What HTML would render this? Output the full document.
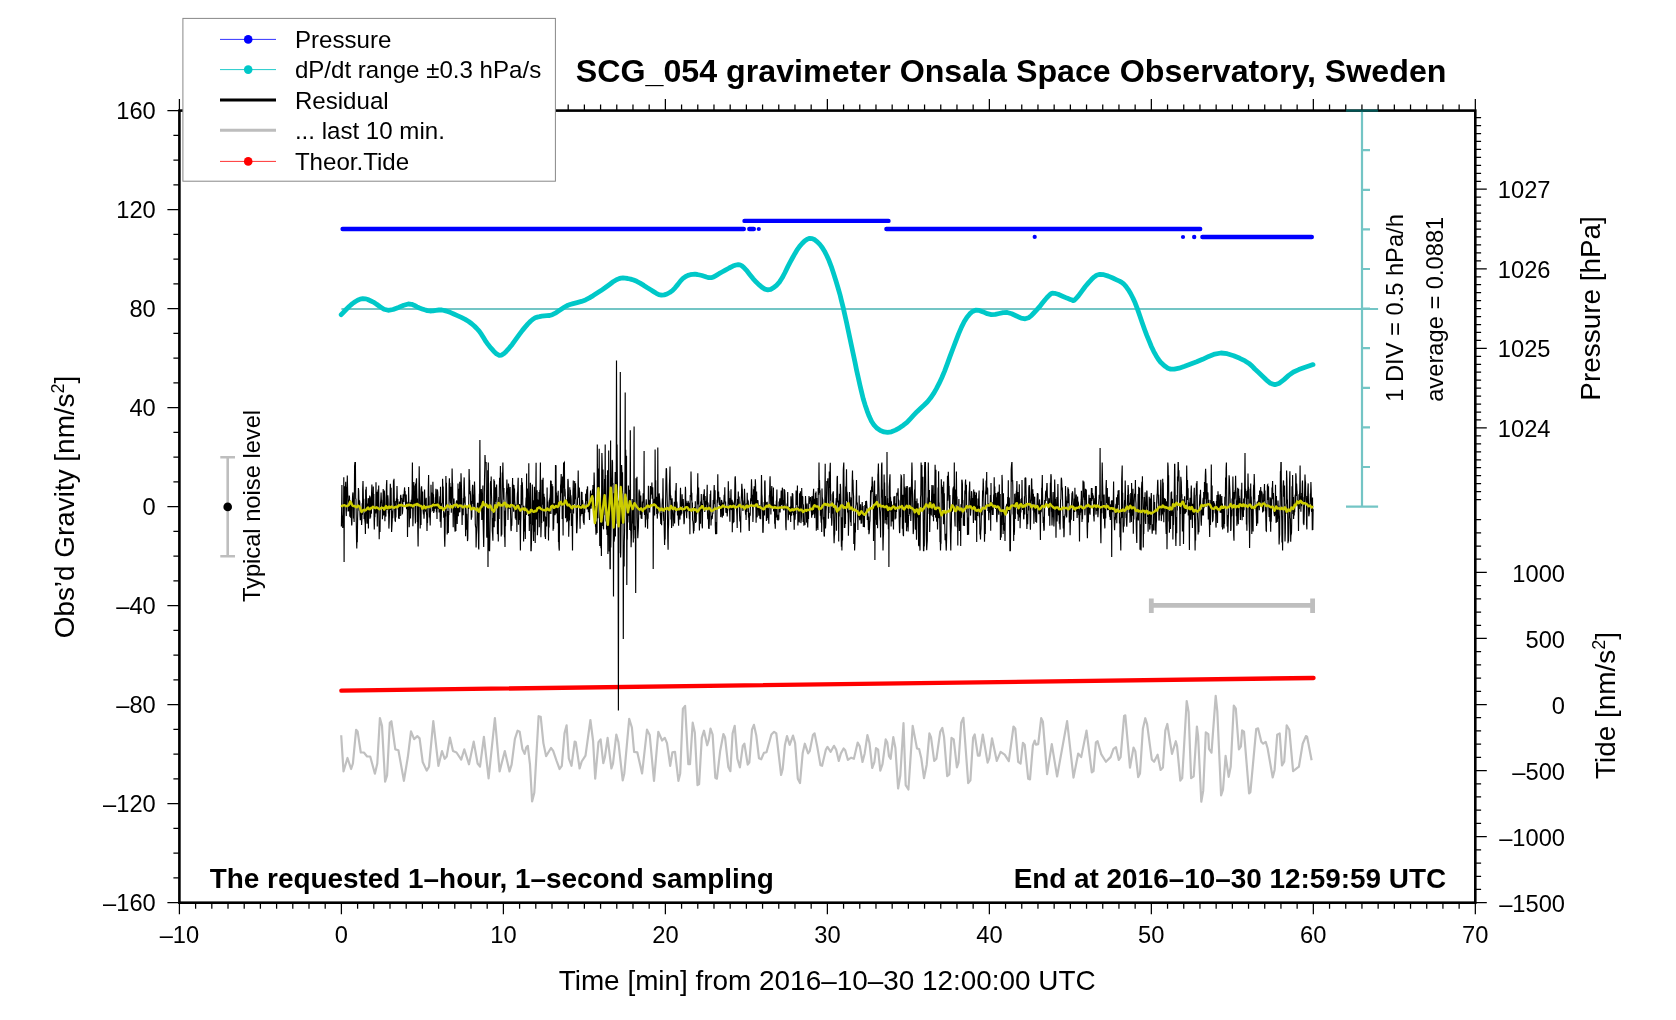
<!DOCTYPE html><html><head><meta charset="utf-8"><style>html,body{margin:0;padding:0;background:#fff;overflow:hidden}svg{display:block;will-change:transform}text{font-family:"Liberation Sans",sans-serif;fill:#000}</style></head><body>
<svg width="1676" height="1020" viewBox="0 0 1676 1020">
<rect width="1676" height="1020" fill="#fff"/>
<path d="M167.4 902.70H179.4M173.4 877.94H179.4M173.4 853.19H179.4M173.4 828.44H179.4M167.4 803.69H179.4M173.4 778.93H179.4M173.4 754.18H179.4M173.4 729.43H179.4M167.4 704.67H179.4M173.4 679.92H179.4M173.4 655.17H179.4M173.4 630.41H179.4M167.4 605.66H179.4M173.4 580.91H179.4M173.4 556.16H179.4M173.4 531.40H179.4M167.4 506.65H179.4M173.4 481.90H179.4M173.4 457.14H179.4M173.4 432.39H179.4M167.4 407.64H179.4M173.4 382.88H179.4M173.4 358.13H179.4M173.4 333.38H179.4M167.4 308.63H179.4M173.4 283.87H179.4M173.4 259.12H179.4M173.4 234.37H179.4M167.4 209.61H179.4M173.4 184.86H179.4M173.4 160.11H179.4M173.4 135.36H179.4M167.4 110.60H179.4M179.41 902.7V914.2M179.41 110.6V99.1M195.61 902.7V908.7M195.61 110.6V104.6M211.81 902.7V908.7M211.81 110.6V104.6M228.01 902.7V908.7M228.01 110.6V104.6M244.21 902.7V908.7M244.21 110.6V104.6M260.40 902.7V908.7M260.40 110.6V104.6M276.60 902.7V908.7M276.60 110.6V104.6M292.80 902.7V908.7M292.80 110.6V104.6M309.00 902.7V908.7M309.00 110.6V104.6M325.20 902.7V908.7M325.20 110.6V104.6M341.40 902.7V914.2M341.40 110.6V99.1M357.60 902.7V908.7M357.60 110.6V104.6M373.80 902.7V908.7M373.80 110.6V104.6M390.00 902.7V908.7M390.00 110.6V104.6M406.20 902.7V908.7M406.20 110.6V104.6M422.39 902.7V908.7M422.39 110.6V104.6M438.59 902.7V908.7M438.59 110.6V104.6M454.79 902.7V908.7M454.79 110.6V104.6M470.99 902.7V908.7M470.99 110.6V104.6M487.19 902.7V908.7M487.19 110.6V104.6M503.39 902.7V914.2M503.39 110.6V99.1M519.59 902.7V908.7M519.59 110.6V104.6M535.79 902.7V908.7M535.79 110.6V104.6M551.99 902.7V908.7M551.99 110.6V104.6M568.19 902.7V908.7M568.19 110.6V104.6M584.38 902.7V908.7M584.38 110.6V104.6M600.58 902.7V908.7M600.58 110.6V104.6M616.78 902.7V908.7M616.78 110.6V104.6M632.98 902.7V908.7M632.98 110.6V104.6M649.18 902.7V908.7M649.18 110.6V104.6M665.38 902.7V914.2M665.38 110.6V99.1M681.58 902.7V908.7M681.58 110.6V104.6M697.78 902.7V908.7M697.78 110.6V104.6M713.98 902.7V908.7M713.98 110.6V104.6M730.18 902.7V908.7M730.18 110.6V104.6M746.38 902.7V908.7M746.38 110.6V104.6M762.57 902.7V908.7M762.57 110.6V104.6M778.77 902.7V908.7M778.77 110.6V104.6M794.97 902.7V908.7M794.97 110.6V104.6M811.17 902.7V908.7M811.17 110.6V104.6M827.37 902.7V914.2M827.37 110.6V99.1M843.57 902.7V908.7M843.57 110.6V104.6M859.77 902.7V908.7M859.77 110.6V104.6M875.97 902.7V908.7M875.97 110.6V104.6M892.17 902.7V908.7M892.17 110.6V104.6M908.37 902.7V908.7M908.37 110.6V104.6M924.56 902.7V908.7M924.56 110.6V104.6M940.76 902.7V908.7M940.76 110.6V104.6M956.96 902.7V908.7M956.96 110.6V104.6M973.16 902.7V908.7M973.16 110.6V104.6M989.36 902.7V914.2M989.36 110.6V99.1M1005.56 902.7V908.7M1005.56 110.6V104.6M1021.76 902.7V908.7M1021.76 110.6V104.6M1037.96 902.7V908.7M1037.96 110.6V104.6M1054.16 902.7V908.7M1054.16 110.6V104.6M1070.36 902.7V908.7M1070.36 110.6V104.6M1086.55 902.7V908.7M1086.55 110.6V104.6M1102.75 902.7V908.7M1102.75 110.6V104.6M1118.95 902.7V908.7M1118.95 110.6V104.6M1135.15 902.7V908.7M1135.15 110.6V104.6M1151.35 902.7V914.2M1151.35 110.6V99.1M1167.55 902.7V908.7M1167.55 110.6V104.6M1183.75 902.7V908.7M1183.75 110.6V104.6M1199.95 902.7V908.7M1199.95 110.6V104.6M1216.15 902.7V908.7M1216.15 110.6V104.6M1232.35 902.7V908.7M1232.35 110.6V104.6M1248.54 902.7V908.7M1248.54 110.6V104.6M1264.74 902.7V908.7M1264.74 110.6V104.6M1280.94 902.7V908.7M1280.94 110.6V104.6M1297.14 902.7V908.7M1297.14 110.6V104.6M1313.34 902.7V914.2M1313.34 110.6V99.1M1329.54 902.7V908.7M1329.54 110.6V104.6M1345.74 902.7V908.7M1345.74 110.6V104.6M1361.94 902.7V908.7M1361.94 110.6V104.6M1378.14 902.7V908.7M1378.14 110.6V104.6M1394.34 902.7V908.7M1394.34 110.6V104.6M1410.53 902.7V908.7M1410.53 110.6V104.6M1426.73 902.7V908.7M1426.73 110.6V104.6M1442.93 902.7V908.7M1442.93 110.6V104.6M1459.13 902.7V908.7M1459.13 110.6V104.6M1475.33 902.7V914.2M1475.33 110.6V99.1M1475.3 499.55H1481.1M1475.3 491.60H1481.1M1475.3 483.64H1481.1M1475.3 475.68H1481.1M1475.3 467.73H1481.1M1475.3 459.77H1481.1M1475.3 451.81H1481.1M1475.3 443.85H1481.1M1475.3 435.90H1481.1M1475.3 427.94H1486.8M1475.3 419.98H1481.1M1475.3 412.03H1481.1M1475.3 404.07H1481.1M1475.3 396.11H1481.1M1475.3 388.15H1481.1M1475.3 380.20H1481.1M1475.3 372.24H1481.1M1475.3 364.28H1481.1M1475.3 356.33H1481.1M1475.3 348.37H1486.8M1475.3 340.41H1481.1M1475.3 332.46H1481.1M1475.3 324.50H1481.1M1475.3 316.54H1481.1M1475.3 308.58H1481.1M1475.3 300.63H1481.1M1475.3 292.67H1481.1M1475.3 284.71H1481.1M1475.3 276.76H1481.1M1475.3 268.80H1486.8M1475.3 260.84H1481.1M1475.3 252.89H1481.1M1475.3 244.93H1481.1M1475.3 236.97H1481.1M1475.3 229.01H1481.1M1475.3 221.06H1481.1M1475.3 213.10H1481.1M1475.3 205.14H1481.1M1475.3 197.19H1481.1M1475.3 189.23H1486.8M1475.3 181.27H1481.1M1475.3 173.32H1481.1M1475.3 165.36H1481.1M1475.3 157.40H1481.1M1475.3 149.44H1481.1M1475.3 141.49H1481.1M1475.3 133.53H1481.1M1475.3 125.57H1481.1M1475.3 117.62H1481.1M1475.3 902.66H1486.8M1475.3 889.46H1481.1M1475.3 876.25H1481.1M1475.3 863.04H1481.1M1475.3 849.83H1481.1M1475.3 836.62H1486.8M1475.3 823.41H1481.1M1475.3 810.20H1481.1M1475.3 796.99H1481.1M1475.3 783.78H1481.1M1475.3 770.57H1486.8M1475.3 757.37H1481.1M1475.3 744.16H1481.1M1475.3 730.95H1481.1M1475.3 717.74H1481.1M1475.3 704.53H1486.8M1475.3 691.32H1481.1M1475.3 678.11H1481.1M1475.3 664.90H1481.1M1475.3 651.69H1481.1M1475.3 638.49H1486.8M1475.3 625.28H1481.1M1475.3 612.07H1481.1M1475.3 598.86H1481.1M1475.3 585.65H1481.1M1475.3 572.44H1486.8M1475.3 559.23H1481.1M1475.3 546.02H1481.1M1475.3 532.81H1481.1M1475.3 519.60H1481.1" stroke="#000" stroke-width="1.25" fill="none"/>
<rect x="179.4" y="110.6" width="1295.9" height="792.1" fill="none" stroke="#000" stroke-width="2.6"/>
<text x="155.8" y="911.1" font-size="23.7" text-anchor="end" >–160</text>
<text x="155.8" y="812.1" font-size="23.7" text-anchor="end" >–120</text>
<text x="155.8" y="713.1" font-size="23.7" text-anchor="end" >–80</text>
<text x="155.8" y="614.1" font-size="23.7" text-anchor="end" >–40</text>
<text x="155.8" y="515.0" font-size="23.7" text-anchor="end" >0</text>
<text x="155.8" y="416.0" font-size="23.7" text-anchor="end" >40</text>
<text x="155.8" y="317.0" font-size="23.7" text-anchor="end" >80</text>
<text x="155.8" y="218.0" font-size="23.7" text-anchor="end" >120</text>
<text x="155.8" y="119.0" font-size="23.7" text-anchor="end" >160</text>
<text x="179.4" y="942.7" font-size="23.7" text-anchor="middle" >–10</text>
<text x="341.4" y="942.7" font-size="23.7" text-anchor="middle" >0</text>
<text x="503.4" y="942.7" font-size="23.7" text-anchor="middle" >10</text>
<text x="665.4" y="942.7" font-size="23.7" text-anchor="middle" >20</text>
<text x="827.4" y="942.7" font-size="23.7" text-anchor="middle" >30</text>
<text x="989.4" y="942.7" font-size="23.7" text-anchor="middle" >40</text>
<text x="1151.3" y="942.7" font-size="23.7" text-anchor="middle" >50</text>
<text x="1313.3" y="942.7" font-size="23.7" text-anchor="middle" >60</text>
<text x="1475.3" y="942.7" font-size="23.7" text-anchor="middle" >70</text>
<text x="1550.5" y="436.9" font-size="23.7" text-anchor="end" >1024</text>
<text x="1550.5" y="357.4" font-size="23.7" text-anchor="end" >1025</text>
<text x="1550.5" y="277.8" font-size="23.7" text-anchor="end" >1026</text>
<text x="1550.5" y="198.2" font-size="23.7" text-anchor="end" >1027</text>
<text x="1565.0" y="911.8" font-size="23.7" text-anchor="end" >–1500</text>
<text x="1565.0" y="845.7" font-size="23.7" text-anchor="end" >–1000</text>
<text x="1565.0" y="779.7" font-size="23.7" text-anchor="end" >–500</text>
<text x="1565.0" y="713.6" font-size="23.7" text-anchor="end" >0</text>
<text x="1565.0" y="647.6" font-size="23.7" text-anchor="end" >500</text>
<text x="1565.0" y="581.5" font-size="23.7" text-anchor="end" >1000</text>
<text x="558.7" y="990.4" font-size="27.9" text-anchor="start" >Time [min] from 2016–10–30 12:00:00 UTC</text>
<text transform="translate(74,507) rotate(-90)" font-size="27.9" text-anchor="middle">Obs’d Gravity [nm/s<tspan dy="-10" font-size="18">2</tspan><tspan dy="10">]</tspan></text>
<text transform="translate(1600,308.4) rotate(-90)" font-size="27.9" text-anchor="middle">Pressure [hPa]</text>
<text transform="translate(1615,705.5) rotate(-90)" font-size="27.9" text-anchor="middle">Tide [nm/s<tspan dy="-10" font-size="18">2</tspan><tspan dy="10">]</tspan></text>
<text x="575.8" y="82.4" font-size="32.2" text-anchor="start" font-weight="bold" >SCG_054 gravimeter Onsala Space Observatory, Sweden</text>
<text x="209.7" y="888.0" font-size="27.9" text-anchor="start" font-weight="bold" >The requested 1–hour, 1–second sampling</text>
<text x="1446.2" y="887.6" font-size="27.9" text-anchor="end" font-weight="bold" >End at 2016–10–30 12:59:59 UTC</text>
<text transform="translate(1402.6,401.8) rotate(-90)" font-size="23.7">1 DIV = 0.5 hPa/h</text>
<text transform="translate(1442.7,401.8) rotate(-90)" font-size="23.7">average = 0.0881</text>
<text transform="translate(259.6,506) rotate(-90)" font-size="23.7" text-anchor="middle">Typical noise level</text>
<path d="M341.4 309H1378.1M1362 110.6V506.6M1346 110.6H1378.1M1346 506.6H1378.1M1362 150.2H1370M1362 189.8H1370M1362 229.4H1370M1362 269.0H1370M1362 308.6H1370M1362 348.2H1370M1362 387.8H1370M1362 427.4H1370M1362 467.0H1370" stroke="#009696" stroke-opacity="0.55" stroke-width="2.2" fill="none"/>
<path d="M341.2 314.7L343.2 312.6 346.1 309.5 349.4 306.2 352.4 303.6 355.1 301.7 357.6 300.2 360.2 299.1 362.8 298.6 365.3 298.8 367.8 299.5 370.4 300.7 373.3 302.1 376.6 304.2 380.1 306.8 384.0 309.2 388.2 310.3 393.1 309.5 398.5 307.4 403.8 305.2 408.3 304.0 411.7 304.3 414.5 305.4 417.0 306.8 419.5 308.0 422.1 308.9 424.7 309.8 427.3 310.6 430.0 311.0 432.9 310.9 435.9 310.4 438.9 310.0 441.9 310.0 444.8 310.6 447.7 311.5 450.6 312.6 453.8 314.0 457.4 315.6 461.3 317.4 465.2 319.4 468.7 321.5 471.7 323.7 474.3 326.0 476.8 328.5 479.2 331.2 481.5 334.4 483.6 337.8 485.8 341.4 488.1 344.6 490.8 347.9 493.7 351.2 496.6 353.9 499.3 355.3 501.7 355.1 504.0 353.6 506.4 351.2 509.0 348.3 512.2 344.4 515.6 339.6 519.2 334.7 522.4 330.4 525.3 326.9 527.9 323.9 530.5 321.3 532.9 319.2 535.2 317.8 537.3 317.1 539.5 316.7 541.8 316.2 544.3 315.9 546.9 315.7 549.5 315.5 552.3 314.7 555.3 313.2 558.5 311.1 561.6 309.0 564.2 307.3 565.9 306.3 566.9 305.7 568.0 305.2 570.0 304.5 573.2 303.6 577.1 302.6 581.4 301.4 585.5 299.9 589.4 297.9 593.2 295.6 597.1 293.1 601.0 290.6 605.0 287.8 609.2 284.7 613.1 281.8 616.5 279.7 619.1 278.6 621.0 278.1 622.9 278.0 625.1 278.2 627.7 278.5 630.6 279.1 633.6 280.0 636.7 281.3 640.1 283.1 643.8 285.4 647.4 287.8 650.7 289.8 653.6 291.6 656.3 293.3 658.9 294.6 661.5 295.2 664.2 294.9 667.0 294.0 669.7 292.5 672.4 290.6 675.1 287.8 677.9 284.4 680.6 280.9 683.2 278.2 685.7 276.5 688.0 275.4 690.3 274.7 692.6 274.3 694.9 274.2 697.3 274.5 699.6 275.0 701.9 275.5 704.2 276.2 706.5 277.0 708.8 277.7 711.2 277.7 713.7 276.9 716.3 275.4 719.0 273.7 722.0 272.0 725.4 270.1 729.2 268.0 732.9 266.1 736.0 265.0 738.3 264.6 739.9 264.8 741.6 265.6 743.7 267.3 746.5 270.3 749.7 274.4 753.0 278.6 756.2 282.1 759.2 284.9 762.1 287.4 764.9 289.1 767.8 289.8 770.7 289.3 773.6 287.7 776.5 285.3 779.4 282.1 782.2 277.8 785.0 272.5 787.7 266.9 790.3 261.9 792.7 257.5 795.0 253.4 797.3 249.6 799.6 246.4 802.1 243.5 804.6 241.0 807.2 239.2 809.7 238.3 812.2 238.6 814.8 239.8 817.3 241.8 819.8 244.4 822.2 247.5 824.5 251.2 826.7 255.5 829.0 260.6 831.3 266.6 833.6 273.5 835.9 280.7 838.0 287.7 839.9 294.3 841.5 300.9 843.2 307.6 844.8 314.7 846.5 322.3 848.2 330.2 849.9 338.3 851.6 346.3 853.3 354.3 855.0 362.3 856.6 370.2 858.3 377.8 859.9 385.0 861.6 392.1 863.2 398.7 865.1 404.9 867.1 410.8 869.2 416.3 871.5 421.2 874.1 425.2 877.1 428.3 880.4 430.5 884.0 431.9 887.6 432.4 891.4 431.8 895.5 430.1 899.6 427.8 903.4 425.2 907.0 422.3 910.3 418.8 913.7 415.2 917.0 411.7 920.4 408.5 923.9 405.3 927.3 402.0 930.5 398.1 933.5 393.7 936.3 388.9 939.0 383.7 941.8 377.8 944.6 371.1 947.4 363.6 950.2 355.9 953.0 348.5 955.8 341.2 958.6 333.9 961.5 327.1 964.3 321.5 967.0 317.2 969.7 313.9 972.5 311.5 975.6 310.2 979.2 310.4 983.2 311.9 987.3 313.7 991.4 314.7 995.3 314.4 999.2 313.5 1003.1 312.6 1007.2 312.5 1011.7 313.8 1016.5 316.0 1021.1 318.1 1025.2 318.8 1028.5 317.8 1031.3 315.7 1033.8 313.0 1036.5 310.2 1039.4 306.9 1042.4 303.1 1045.3 299.5 1047.8 296.7 1049.6 294.9 1050.9 293.8 1052.3 293.2 1054.5 293.3 1058.1 294.3 1062.5 296.2 1066.9 298.1 1070.3 299.4 1072.2 300.1 1073.1 300.6 1074.0 300.4 1075.6 299.0 1078.4 295.8 1081.7 291.3 1085.3 286.5 1088.6 282.6 1091.4 279.6 1094.0 277.1 1096.6 275.2 1099.8 274.3 1103.8 274.7 1108.3 276.1 1112.8 278.0 1116.6 279.8 1119.5 281.1 1121.7 282.4 1123.8 284.0 1125.9 286.4 1128.2 289.6 1130.6 293.5 1132.9 298.0 1135.2 303.1 1137.5 309.1 1139.8 315.8 1142.2 322.7 1144.5 329.2 1146.8 335.3 1149.2 341.2 1151.5 346.7 1153.8 351.6 1156.1 355.7 1158.3 359.2 1160.6 362.2 1163.1 364.6 1165.5 366.6 1167.9 368.2 1170.7 369.1 1174.3 369.2 1179.1 368.2 1184.7 366.3 1190.7 364.0 1196.7 361.8 1202.6 359.3 1208.7 356.4 1214.8 354.1 1220.9 353.0 1227.2 353.7 1233.7 355.7 1239.8 358.3 1245.1 360.9 1249.0 363.4 1252.1 366.1 1254.8 369.0 1258.1 372.0 1262.0 375.7 1266.2 379.8 1270.5 383.3 1274.9 384.7 1279.4 383.2 1284.0 379.6 1288.7 375.4 1293.5 372.0 1298.8 369.6 1304.4 367.5 1309.5 365.8 1313.0 364.6" stroke="#00c8c8" stroke-width="4.8" fill="none" stroke-linejoin="round" stroke-linecap="round"/>
<path d="M342.6 229H743.8M744.5 220.9H888.5M886.4 229H1200.2M1202.4 237H1311.8" stroke="#0000ff" stroke-width="4.4" fill="none" stroke-linecap="round"/>
<path d="M749.3 229H753.8" stroke="#0000ff" stroke-width="4.4" fill="none" stroke-linecap="round"/>
<circle cx="758.8" cy="229" r="2.1" fill="#0000ff"/>
<circle cx="1034.7" cy="236.9" r="2.1" fill="#0000ff"/>
<circle cx="1183" cy="237" r="2.1" fill="#0000ff"/>
<circle cx="1194.2" cy="237" r="2.2" fill="#0000ff"/>
<path d="M341.4 690.6L1313.5 678" stroke="#ff0000" stroke-width="4.4" fill="none" stroke-linecap="round"/>
<path d="M227.7 457.3V556.3M220.3 457.3H235M220.3 556.3H235" stroke="#bebebe" stroke-width="2.6" fill="none"/>
<circle cx="227.7" cy="506.9" r="4.3" fill="#000"/>
<path d="M1151.3 605.4H1312.6M1151.3 598.5V613M1312.6 598.5V613" stroke="#bebebe" stroke-width="4.8" fill="none"/>
<path d="M341.2 735.3L343.5 771.4 347.5 758.0 351.1 769.0 352.9 763.5 356.1 729.8 357.6 731.4 360.8 752.5 363.9 752.5 367.1 756.5 370.2 756.5 374.9 773.7 377.3 763.5 379.9 718.0 382.0 725.9 385.1 781.6 387.1 775.3 389.8 722.7 391.4 721.2 395.3 749.4 398.4 750.2 403.9 780.8 407.8 757.3 411.0 731.4 414.1 739.2 417.3 736.1 419.6 738.4 422.7 762.0 426.7 770.6 429.0 766.7 433.3 721.2 438.4 765.9 442.0 751.0 444.7 758.8 446.7 756.5 449.9 737.6 453.0 751.0 456.5 752.5 461.2 759.6 464.3 749.4 469.0 764.3 473.7 741.6 477.6 763.5 480.0 766.7 483.9 736.9 488.6 778.4 494.9 718.0 499.6 771.4 504.8 751.0 509.5 771.4 511.6 764.7 514.9 738.8 517.6 730.7 519.7 731.8 522.4 749.1 524.6 753.9 526.2 747.5 527.8 745.8 530.0 764.7 532.1 801.4 534.3 792.8 538.6 716.2 540.7 716.7 543.4 743.1 546.1 756.1 551.0 748.0 553.1 750.7 556.4 760.4 559.6 769.0 561.8 765.8 564.5 733.4 566.6 725.4 568.8 758.3 571.5 765.8 574.7 741.5 575.8 742.1 579.6 768.5 581.7 761.5 585.5 755.6 590.4 720.0 593.1 741.0 595.2 778.7 598.5 742.1 600.6 739.4 603.3 763.1 604.9 757.2 607.6 737.8 611.4 768.5 613.0 763.6 616.3 734.5 618.4 742.1 622.7 780.4 624.3 773.4 629.2 718.9 631.9 727.5 634.1 751.8 637.3 752.3 642.1 773.4 647.0 729.7 649.7 735.1 654.0 780.9 658.3 731.8 662.1 740.5 664.8 737.8 667.0 743.1 670.2 765.8 672.4 752.3 675.0 751.8 678.4 780.9 680.2 773.4 682.9 708.6 685.1 705.9 688.3 764.2 690.0 764.2 692.7 722.7 694.8 732.4 697.5 785.2 699.1 784.1 701.8 737.8 704.0 730.7 707.2 745.3 708.8 739.9 710.5 728.6 712.6 734.5 715.3 777.7 716.9 778.7 720.2 750.7 723.4 734.0 725.0 737.2 728.3 766.9 730.4 771.2 732.6 733.4 734.7 725.9 737.4 758.8 739.9 767.4 742.8 745.8 744.4 743.7 747.7 764.7 749.3 762.6 752.0 729.7 753.9 724.8 756.3 735.6 759.0 758.3 761.2 759.3 763.9 752.9 766.5 752.3 771.4 734.5 774.1 731.8 776.3 733.4 778.4 751.8 781.1 775.0 782.7 769.0 784.9 745.3 787.0 736.1 789.7 744.8 793.0 735.6 795.1 743.1 797.8 778.7 800.0 783.1 802.7 752.9 804.8 743.7 808.1 753.4 809.7 751.2 812.9 735.1 814.6 733.4 817.2 746.4 820.5 765.3 822.1 765.8 825.9 749.6 827.5 746.9 830.7 751.8 834.0 745.8 836.1 749.6 838.8 760.9 840.9 753.4 843.6 748.5 845.2 750.2 847.9 759.9 851.2 757.7 853.9 758.8 857.7 742.6 859.8 746.4 862.5 762.0 864.7 753.4 867.4 735.1 869.5 743.1 872.2 768.0 874.4 762.0 876.0 748.0 878.1 749.6 880.3 770.7 882.5 764.2 885.7 739.4 887.3 742.6 889.0 756.1 890.6 758.8 893.3 737.2 895.4 748.0 898.1 788.5 900.3 775.5 903.5 723.2 905.7 785.2 908.4 789.5 912.7 725.9 917.0 748.5 919.1 749.1 921.3 758.3 924.0 778.2 926.7 764.7 929.4 733.4 931.0 737.2 934.2 760.9 936.4 758.8 940.2 731.8 942.3 728.0 944.0 736.7 947.2 776.1 949.3 774.4 951.5 737.8 953.7 739.4 956.9 767.4 958.5 762.6 961.2 722.7 963.4 717.8 968.2 783.1 970.4 780.4 973.1 737.8 974.7 734.5 977.9 755.6 979.6 755.6 982.8 734.5 987.6 762.6 989.3 758.3 992.0 738.3 996.8 760.9 1000.6 751.8 1004.7 754.7 1008.8 761.2 1013.5 726.5 1015.3 728.8 1018.2 761.8 1020.6 763.5 1022.9 742.9 1024.7 744.7 1028.2 778.8 1030.0 779.4 1032.9 745.3 1034.7 740.6 1035.9 744.7 1038.2 744.1 1041.2 718.2 1042.9 721.8 1047.1 774.1 1051.8 744.1 1057.1 776.5 1067.1 721.2 1073.5 777.6 1078.2 753.5 1081.2 757.1 1086.5 730.6 1091.8 772.4 1093.5 771.2 1095.9 742.4 1097.6 741.2 1101.2 754.1 1105.9 761.8 1110.6 757.1 1113.5 748.8 1115.9 747.1 1118.8 760.0 1120.6 757.1 1124.1 715.9 1125.3 715.3 1130.0 767.6 1133.5 747.6 1135.3 751.2 1138.2 777.1 1140.0 773.5 1142.9 728.8 1145.3 718.2 1147.1 724.1 1151.8 759.4 1154.1 761.8 1157.6 754.7 1160.6 770.0 1162.9 767.6 1165.3 730.6 1167.3 724.0 1172.0 753.9 1175.8 741.2 1177.1 746.3 1180.3 780.7 1182.2 778.2 1186.7 701.0 1188.6 711.9 1191.1 778.2 1193.7 776.3 1196.9 726.5 1198.1 736.1 1201.3 801.7 1203.2 790.9 1205.8 732.3 1208.3 734.2 1209.0 748.8 1211.5 752.7 1215.7 695.9 1217.3 711.2 1221.1 795.4 1223.0 789.6 1225.6 755.9 1228.7 776.9 1230.7 766.7 1233.8 705.5 1235.8 708.7 1238.9 749.5 1240.9 746.3 1242.1 730.4 1244.0 731.6 1249.1 793.5 1250.4 792.2 1256.2 729.1 1258.1 728.4 1261.3 741.8 1263.2 743.7 1265.7 741.8 1267.6 748.2 1272.7 777.5 1274.6 769.9 1277.2 734.8 1279.7 733.5 1282.0 765.4 1284.2 761.6 1286.7 725.3 1289.3 729.7 1293.1 771.2 1295.7 769.2 1298.9 766.7 1302.7 743.7 1305.9 736.1 1307.1 736.7 1311.6 760.3" stroke="#c0c0c0" stroke-width="2.2" fill="none" stroke-linejoin="round"/>
<path d="M341.4 526.6L341.7 504.9 341.9 484.9 342.2 522.0 342.5 515.6 342.7 527.9 343.0 526.2 343.3 520.4 343.6 510.8 343.8 477.3 344.1 562.0 344.4 486.4 344.6 487.1 344.9 505.4 345.2 498.6 345.4 490.9 345.7 481.7 346.0 510.4 346.3 516.1 346.5 504.0 346.8 487.9 347.1 486.4 347.3 475.4 347.6 489.8 347.9 500.8 348.1 511.6 348.4 499.7 348.7 510.4 349.0 510.6 349.2 495.5 349.5 496.9 349.8 516.7 350.0 500.1 350.3 511.8 350.6 511.3 350.8 518.0 351.1 504.3 351.4 518.4 351.7 525.5 351.9 523.9 352.2 505.1 352.5 498.3 352.7 494.3 353.0 492.4 353.3 502.4 353.5 518.6 353.8 511.0 354.1 522.0 354.4 491.7 354.6 466.1 354.9 462.6 355.2 462.6 355.4 462.6 355.7 498.5 356.0 499.0 356.2 514.8 356.5 539.1 356.8 548.5 357.1 525.9 357.3 542.2 357.6 519.1 357.9 508.1 358.1 510.8 358.4 488.1 358.7 490.9 358.9 498.9 359.2 505.8 359.5 500.4 359.8 502.6 360.0 515.0 360.3 520.2 360.6 508.3 360.8 518.7 361.1 511.1 361.4 516.4 361.6 525.0 361.9 519.8 362.2 503.3 362.5 514.7 362.7 489.1 363.0 480.9 363.3 494.5 363.5 510.0 363.8 498.7 364.1 518.9 364.3 513.1 364.6 517.6 364.9 520.6 365.2 523.6 365.4 534.0 365.7 489.5 366.0 510.8 366.2 486.7 366.5 501.9 366.8 520.9 367.0 523.6 367.3 522.6 367.6 503.5 367.9 515.8 368.1 498.2 368.4 528.5 368.7 507.3 368.9 511.5 369.2 497.9 369.5 499.7 369.7 495.5 370.0 518.8 370.3 510.6 370.6 517.6 370.8 500.1 371.1 496.6 371.4 513.7 371.6 492.6 371.9 484.5 372.2 506.8 372.4 493.4 372.7 496.4 373.0 507.3 373.3 486.4 373.5 507.5 373.8 493.9 374.1 520.8 374.3 529.6 374.6 516.5 374.9 517.2 375.1 506.5 375.4 511.8 375.7 512.3 376.0 482.3 376.2 512.7 376.5 496.3 376.8 503.5 377.0 491.8 377.3 526.4 377.6 501.9 377.8 496.2 378.1 489.6 378.4 506.6 378.7 485.4 378.9 514.6 379.2 539.3 379.5 522.3 379.7 529.4 380.0 532.0 380.3 511.1 380.5 503.3 380.8 499.8 381.1 492.6 381.4 501.1 381.6 499.7 381.9 506.8 382.2 505.2 382.4 519.3 382.7 513.5 383.0 506.6 383.2 489.1 383.5 515.4 383.8 514.4 384.1 500.1 384.3 490.5 384.6 497.6 384.9 521.3 385.1 510.0 385.4 516.4 385.7 514.0 385.9 516.6 386.2 495.0 386.5 484.2 386.8 480.0 387.0 505.3 387.3 509.9 387.6 504.0 387.8 495.3 388.1 499.7 388.4 513.4 388.6 510.5 388.9 528.6 389.2 522.0 389.5 512.4 389.7 507.7 390.0 500.3 390.3 483.8 390.5 487.4 390.8 510.0 391.1 487.7 391.3 506.0 391.6 531.9 391.9 526.6 392.2 521.1 392.4 510.6 392.7 518.1 393.0 511.4 393.2 502.5 393.5 480.2 393.8 490.2 394.0 478.8 394.3 500.1 394.6 506.7 394.9 517.7 395.1 520.9 395.4 521.1 395.7 500.9 395.9 517.5 396.2 501.9 396.5 498.3 396.7 502.4 397.0 485.9 397.3 499.1 397.6 505.8 397.8 499.0 398.1 509.5 398.4 507.7 398.6 518.4 398.9 508.2 399.2 519.1 399.4 501.6 399.7 505.9 400.0 508.5 400.3 516.1 400.5 496.3 400.8 494.8 401.1 498.9 401.3 499.0 401.6 498.1 401.9 502.3 402.1 513.8 402.4 513.3 402.7 509.9 403.0 497.4 403.2 494.3 403.5 496.9 403.8 502.0 404.0 496.4 404.3 491.4 404.6 487.4 404.8 493.5 405.1 491.1 405.4 502.1 405.7 505.6 405.9 499.6 406.2 494.6 406.5 508.4 406.7 509.1 407.0 501.9 407.3 506.1 407.5 536.9 407.8 504.5 408.1 509.1 408.4 509.1 408.6 487.1 408.9 503.2 409.2 527.3 409.4 519.7 409.7 512.1 410.0 509.1 410.2 502.3 410.5 518.4 410.8 504.9 411.1 501.6 411.3 499.9 411.6 508.4 411.9 497.6 412.1 492.9 412.4 462.6 412.7 508.1 412.9 526.3 413.2 514.4 413.5 493.8 413.8 482.0 414.0 499.2 414.3 485.5 414.6 505.3 414.8 495.8 415.1 514.9 415.4 523.4 415.6 483.4 415.9 503.9 416.2 482.7 416.5 478.2 416.7 489.3 417.0 502.1 417.3 522.0 417.5 498.6 417.8 529.4 418.1 546.5 418.3 527.9 418.6 514.3 418.9 493.1 419.2 466.3 419.4 482.4 419.7 490.2 420.0 503.7 420.2 528.5 420.5 511.6 420.8 517.8 421.0 525.0 421.3 489.2 421.6 486.3 421.9 496.3 422.1 491.4 422.4 505.8 422.7 491.5 422.9 508.2 423.2 511.6 423.5 514.4 423.7 509.8 424.0 518.8 424.3 512.6 424.6 489.5 424.8 498.0 425.1 501.0 425.4 499.6 425.6 510.7 425.9 510.4 426.2 497.8 426.4 512.4 426.7 515.7 427.0 530.9 427.3 515.5 427.5 523.1 427.8 508.3 428.1 503.2 428.3 488.1 428.6 475.1 428.9 505.0 429.1 496.2 429.4 517.5 429.7 516.3 430.0 519.4 430.2 525.5 430.5 508.7 430.8 512.3 431.0 484.8 431.3 505.8 431.6 492.6 431.8 495.1 432.1 496.2 432.4 499.3 432.7 511.2 432.9 481.8 433.2 496.6 433.5 494.3 433.7 512.9 434.0 503.7 434.3 511.5 434.5 503.0 434.8 508.5 435.1 508.4 435.4 497.3 435.6 498.3 435.9 488.7 436.2 504.6 436.4 512.2 436.7 502.8 437.0 519.1 437.2 489.5 437.5 490.1 437.8 492.6 438.1 502.0 438.3 508.8 438.6 507.2 438.9 505.7 439.1 512.5 439.4 505.1 439.7 500.3 439.9 496.3 440.2 521.7 440.5 486.8 440.8 511.4 441.0 527.7 441.3 515.5 441.6 503.2 441.8 507.1 442.1 504.2 442.4 502.1 442.6 478.7 442.9 489.9 443.2 486.6 443.5 504.6 443.7 517.8 444.0 511.7 444.3 513.1 444.5 537.2 444.8 546.7 445.1 532.5 445.3 513.5 445.6 516.4 445.9 476.1 446.2 492.3 446.4 482.8 446.7 501.3 447.0 511.2 447.2 534.5 447.5 513.4 447.8 520.2 448.0 510.9 448.3 533.0 448.6 513.6 448.9 515.0 449.1 485.9 449.4 478.2 449.7 491.7 449.9 483.1 450.2 500.7 450.5 503.5 450.7 497.2 451.0 486.7 451.3 512.8 451.6 495.1 451.8 498.4 452.1 468.5 452.4 482.4 452.6 483.5 452.9 501.8 453.2 527.3 453.4 513.8 453.7 499.5 454.0 498.6 454.3 508.2 454.5 507.7 454.8 527.2 455.1 531.8 455.3 507.9 455.6 523.7 455.9 531.0 456.1 504.3 456.4 501.4 456.7 500.5 457.0 504.2 457.2 524.0 457.5 508.8 457.8 505.5 458.0 483.5 458.3 516.3 458.6 495.7 458.8 488.8 459.1 512.4 459.4 509.0 459.7 481.8 459.9 512.2 460.2 502.4 460.5 487.4 460.7 504.7 461.0 473.3 461.3 482.3 461.5 488.8 461.8 501.9 462.1 525.1 462.4 507.1 462.6 507.8 462.9 510.0 463.2 515.3 463.4 497.9 463.7 504.6 464.0 481.2 464.2 477.4 464.5 492.0 464.8 502.7 465.1 496.6 465.3 512.1 465.6 536.3 465.9 506.8 466.1 510.5 466.4 529.7 466.7 513.7 466.9 525.3 467.2 526.3 467.5 541.1 467.8 538.5 468.0 520.6 468.3 506.6 468.6 509.1 468.8 499.1 469.1 468.9 469.4 482.1 469.6 479.9 469.9 494.1 470.2 491.0 470.5 495.2 470.7 506.0 471.0 501.0 471.3 519.8 471.5 514.1 471.8 517.5 472.1 494.8 472.3 490.7 472.6 484.9 472.9 485.9 473.2 503.9 473.4 494.5 473.7 506.8 474.0 497.1 474.2 507.8 474.5 481.6 474.8 490.2 475.0 499.1 475.3 524.4 475.6 527.1 475.9 527.2 476.1 547.6 476.4 535.3 476.7 529.6 476.9 524.9 477.2 508.6 477.5 502.9 477.7 506.1 478.0 502.7 478.3 529.2 478.6 547.7 478.8 549.5 479.1 518.3 479.4 493.7 479.6 497.5 479.9 440.0 480.2 509.7 480.4 493.0 480.7 490.4 481.0 505.0 481.3 489.0 481.5 494.7 481.8 519.9 482.1 518.1 482.3 496.6 482.6 494.5 482.9 485.4 483.1 521.7 483.4 534.7 483.7 547.0 484.0 526.5 484.2 512.1 484.5 480.1 484.8 467.2 485.0 455.0 485.3 462.6 485.6 462.6 485.8 462.6 486.1 462.6 486.4 494.4 486.7 535.7 486.9 537.7 487.2 512.3 487.5 516.4 487.7 470.2 488.0 567.0 488.3 462.6 488.5 493.3 488.8 550.6 489.1 538.7 489.4 550.6 489.6 550.6 489.9 534.0 490.2 515.0 490.4 483.8 490.7 481.1 491.0 486.0 491.2 476.6 491.5 494.8 491.8 503.8 492.1 514.3 492.3 530.8 492.6 534.3 492.9 540.8 493.1 518.0 493.4 526.1 493.7 505.9 493.9 479.3 494.2 527.3 494.5 480.7 494.8 495.4 495.0 521.3 495.3 487.3 495.6 502.1 495.8 493.8 496.1 490.1 496.4 489.1 496.6 484.4 496.9 499.4 497.2 505.6 497.5 534.3 497.7 528.3 498.0 516.4 498.3 541.4 498.5 504.5 498.8 497.0 499.1 519.0 499.3 492.3 499.6 477.7 499.9 478.7 500.2 482.2 500.4 466.0 500.7 498.1 501.0 507.2 501.2 536.6 501.5 523.0 501.8 534.8 502.0 506.9 502.3 472.5 502.6 476.2 502.9 462.6 503.1 475.7 503.4 490.4 503.7 499.7 503.9 488.0 504.2 518.8 504.5 537.3 504.7 534.6 505.0 547.1 505.3 510.6 505.5 526.2 505.8 504.3 506.1 500.3 506.4 492.7 506.6 491.4 506.9 479.6 507.2 490.7 507.4 487.9 507.7 496.7 508.0 519.9 508.2 507.0 508.5 483.5 508.8 487.3 509.1 492.6 509.3 508.8 509.6 504.9 509.9 508.5 510.1 486.9 510.4 506.4 510.7 517.6 510.9 529.2 511.2 531.1 511.5 518.8 511.8 525.8 512.0 516.2 512.3 492.0 512.6 478.1 512.8 506.8 513.1 484.4 513.4 502.0 513.6 511.8 513.9 484.9 514.2 493.6 514.5 488.4 514.7 500.1 515.0 504.0 515.3 518.5 515.5 506.0 515.8 504.4 516.1 520.0 516.3 510.8 516.6 507.6 516.9 532.0 517.2 497.9 517.4 493.9 517.7 491.2 518.0 481.3 518.2 477.7 518.5 524.8 518.8 509.9 519.0 518.9 519.3 519.1 519.6 504.0 519.9 506.1 520.1 526.7 520.4 550.6 520.7 522.5 520.9 516.6 521.2 485.0 521.5 505.2 521.7 477.9 522.0 498.2 522.3 482.3 522.6 489.9 522.8 503.6 523.1 510.8 523.4 509.5 523.6 541.4 523.9 505.7 524.2 514.2 524.4 531.5 524.7 518.9 525.0 526.3 525.3 539.0 525.5 515.8 525.8 504.9 526.1 497.6 526.3 515.0 526.6 473.5 526.9 511.5 527.1 492.5 527.4 488.4 527.7 508.3 528.0 494.3 528.2 504.9 528.5 515.9 528.8 463.2 529.0 497.3 529.3 530.9 529.6 515.2 529.8 524.1 530.1 500.3 530.4 482.8 530.7 503.9 530.9 550.6 531.2 550.6 531.5 541.0 531.7 536.4 532.0 527.8 532.3 484.6 532.5 489.9 532.8 517.0 533.1 525.2 533.4 500.2 533.6 541.0 533.9 508.3 534.2 505.5 534.4 486.7 534.7 531.7 535.0 511.0 535.2 543.1 535.5 496.4 535.8 487.8 536.1 462.8 536.3 519.6 536.6 501.0 536.9 517.5 537.1 490.2 537.4 535.2 537.7 527.0 537.9 500.3 538.2 500.7 538.5 505.6 538.8 512.8 539.0 491.9 539.3 527.3 539.6 499.4 539.8 490.3 540.1 489.9 540.4 462.6 540.6 502.7 540.9 537.2 541.2 526.8 541.5 511.4 541.7 522.9 542.0 479.7 542.3 500.5 542.5 504.6 542.8 500.7 543.1 477.7 543.3 505.9 543.6 521.5 543.9 493.7 544.2 517.5 544.4 496.8 544.7 499.3 545.0 536.7 545.2 532.2 545.5 539.1 545.8 524.1 546.0 518.0 546.3 518.5 546.6 526.4 546.9 509.6 547.1 487.4 547.4 511.8 547.7 501.5 547.9 507.1 548.2 509.9 548.5 540.6 548.7 518.8 549.0 527.5 549.3 499.7 549.6 513.8 549.8 498.7 550.1 497.6 550.4 492.7 550.6 480.5 550.9 514.1 551.2 480.8 551.4 495.0 551.7 506.9 552.0 483.9 552.3 500.3 552.5 496.9 552.8 486.3 553.1 530.8 553.3 514.6 553.6 529.0 553.9 515.4 554.1 503.2 554.4 512.7 554.7 515.2 555.0 506.8 555.2 514.8 555.5 464.9 555.8 478.9 556.0 465.3 556.3 513.6 556.6 492.5 556.8 502.0 557.1 495.5 557.4 523.2 557.7 508.6 557.9 514.4 558.2 490.8 558.5 541.9 558.7 538.9 559.0 548.0 559.3 550.6 559.5 514.6 559.8 502.5 560.1 506.4 560.4 497.4 560.6 485.7 560.9 483.0 561.2 474.0 561.4 485.9 561.7 493.3 562.0 486.0 562.2 519.0 562.5 476.4 562.8 505.1 563.1 535.5 563.3 489.8 563.6 462.6 563.9 487.8 564.1 463.1 564.4 462.6 564.7 496.6 564.9 488.7 565.2 492.8 565.5 518.3 565.8 513.2 566.0 499.3 566.3 508.0 566.6 504.4 566.8 522.3 567.1 519.9 567.4 521.1 567.6 498.0 567.9 478.9 568.2 481.0 568.5 499.6 568.7 536.8 569.0 523.9 569.3 497.4 569.5 520.5 569.8 487.2 570.1 513.2 570.3 489.7 570.6 497.7 570.9 495.2 571.2 499.9 571.4 526.1 571.7 514.3 572.0 521.0 572.2 525.4 572.5 550.6 572.8 507.9 573.0 492.4 573.3 480.4 573.6 513.5 573.9 488.4 574.1 498.4 574.4 504.1 574.7 481.0 574.9 499.1 575.2 495.5 575.5 483.2 575.7 492.8 576.0 501.0 576.3 514.2 576.6 532.7 576.8 532.7 577.1 527.1 577.4 518.3 577.6 498.4 577.9 496.6 578.2 470.6 578.4 485.8 578.7 497.2 579.0 497.3 579.3 487.6 579.5 496.3 579.8 518.3 580.1 528.7 580.3 505.1 580.6 516.3 580.9 513.9 581.1 514.5 581.4 491.8 581.7 498.6 582.0 492.1 582.2 513.9 582.5 500.2 582.8 502.2 583.0 507.0 583.3 519.7 583.6 522.9 583.8 517.7 584.1 524.7 584.4 508.8 584.7 512.7 584.9 507.2 585.2 503.8 585.5 503.4 585.7 493.7 586.0 500.8 586.3 499.3 586.5 493.2 586.8 489.4 587.1 509.4 587.4 486.4 587.6 486.8 587.9 507.5 588.2 506.4 588.4 512.3 588.7 507.9 589.0 504.2 589.2 512.1 589.5 519.9 589.8 507.1 590.1 502.7 590.3 494.8 590.6 490.6 590.9 508.7 591.1 508.0 591.4 494.5 591.7 494.2 591.9 495.9 592.2 505.8 592.5 489.2 592.8 502.8 593.0 485.1 593.3 487.6 593.6 497.5 593.8 493.6 594.1 472.6 594.4 483.5 594.6 511.2 594.9 506.3 595.2 506.4 595.5 526.2 595.7 526.2 596.0 534.8 596.3 530.9 596.5 521.6 596.8 532.6 597.1 532.5 597.3 444.5 597.6 506.1 597.9 518.2 598.2 468.5 598.4 493.2 598.7 477.6 599.0 473.5 599.2 448.8 599.5 520.7 599.8 546.0 600.0 529.8 600.3 529.0 600.6 522.2 600.9 548.3 601.1 525.8 601.4 555.9 601.7 472.5 601.9 453.1 602.2 464.2 602.5 481.0 602.7 525.9 603.0 469.4 603.3 527.8 603.6 529.3 603.8 511.1 604.1 515.3 604.4 490.5 604.6 478.9 604.9 494.9 605.2 444.6 605.4 494.1 605.7 475.0 606.0 521.6 606.3 509.1 606.5 529.4 606.8 522.6 607.1 535.1 607.3 501.7 607.6 470.2 607.9 554.1 608.1 481.0 608.4 518.7 608.7 450.5 609.0 512.6 609.2 551.4 609.5 515.5 609.8 543.0 610.0 568.6 610.3 568.6 610.6 440.4 610.8 547.5 611.1 529.4 611.4 501.4 611.7 483.3 611.9 476.3 612.2 459.9 612.5 462.0 612.7 485.2 613.0 482.9 613.3 537.4 613.5 596.5 613.8 493.2 614.1 541.7 614.4 538.4 614.6 524.0 614.9 500.3 615.2 471.9 615.4 536.4 615.7 498.7 616.0 523.8 616.2 490.0 616.5 360.4 616.8 490.7 617.1 444.6 617.3 472.0 617.6 502.7 617.9 500.7 618.1 539.2 618.4 710.4 618.7 520.3 618.9 553.2 619.2 501.7 619.5 499.5 619.8 490.8 620.0 507.1 620.3 372.1 620.6 557.5 620.8 552.5 621.1 522.5 621.4 524.0 621.6 465.1 621.9 473.4 622.2 476.0 622.5 472.3 622.7 492.7 623.0 494.5 623.3 638.9 623.5 562.0 623.8 552.2 624.1 566.5 624.3 542.0 624.6 531.1 624.9 497.9 625.2 392.6 625.4 489.9 625.7 449.7 626.0 482.4 626.2 502.3 626.5 455.7 626.8 585.0 627.0 540.8 627.3 538.4 627.6 506.8 627.9 522.5 628.1 513.1 628.4 485.4 628.7 512.6 628.9 515.6 629.2 500.6 629.5 489.8 629.7 530.0 630.0 512.9 630.3 430.2 630.6 530.8 630.8 524.2 631.1 547.2 631.4 537.7 631.6 531.9 631.9 516.4 632.2 499.1 632.4 509.3 632.7 523.4 633.0 507.9 633.3 542.5 633.5 501.8 633.8 498.8 634.1 426.5 634.3 529.9 634.6 525.8 634.9 529.5 635.1 538.5 635.4 530.5 635.7 593.0 636.0 478.3 636.2 484.4 636.5 489.4 636.8 501.6 637.0 476.7 637.3 517.7 637.6 531.3 637.8 538.2 638.1 532.5 638.4 526.9 638.7 512.9 638.9 494.0 639.2 489.5 639.5 508.8 639.7 491.2 640.0 502.7 640.3 514.8 640.5 508.9 640.8 495.5 641.1 518.5 641.4 514.5 641.6 511.5 641.9 519.1 642.2 509.2 642.4 501.5 642.7 511.0 643.0 500.6 643.2 493.2 643.5 495.3 643.8 502.7 644.1 451.0 644.3 512.3 644.6 515.0 644.9 509.6 645.1 510.7 645.4 527.6 645.7 512.8 645.9 505.2 646.2 499.3 646.5 504.7 646.8 511.2 647.0 519.8 647.3 518.5 647.6 528.7 647.8 513.7 648.1 518.8 648.4 485.8 648.6 486.8 648.9 505.9 649.2 501.5 649.5 503.2 649.7 512.4 650.0 499.7 650.3 505.4 650.5 486.1 650.8 493.7 651.1 486.9 651.3 493.6 651.6 494.1 651.9 482.5 652.2 498.8 652.4 489.3 652.7 487.3 653.0 498.8 653.2 569.1 653.5 518.6 653.8 513.0 654.0 507.6 654.3 498.7 654.6 515.4 654.9 504.4 655.1 449.4 655.4 495.4 655.7 480.3 655.9 504.8 656.2 496.9 656.5 497.5 656.7 514.1 657.0 505.6 657.3 518.6 657.6 512.3 657.8 447.6 658.1 513.6 658.4 499.6 658.6 510.0 658.9 505.6 659.2 493.4 659.4 496.2 659.7 500.4 660.0 504.3 660.3 515.0 660.5 516.5 660.8 524.1 661.1 513.0 661.3 521.6 661.6 525.2 661.9 511.7 662.1 505.4 662.4 498.5 662.7 502.3 663.0 478.3 663.2 494.7 663.5 514.9 663.8 521.0 664.0 511.5 664.3 532.4 664.6 545.0 664.8 535.2 665.1 539.5 665.4 518.8 665.6 503.6 665.9 481.6 666.2 468.2 666.5 468.9 666.7 476.7 667.0 491.7 667.3 504.5 667.5 517.5 667.8 538.6 668.1 549.7 668.3 530.2 668.6 524.6 668.9 507.0 669.2 499.3 669.4 485.2 669.7 478.4 670.0 466.4 670.2 485.9 670.5 500.0 670.8 495.4 671.0 519.6 671.3 511.3 671.6 528.0 671.9 500.6 672.1 498.3 672.4 507.6 672.7 511.4 672.9 513.3 673.2 526.3 673.5 514.6 673.7 519.0 674.0 519.8 674.3 501.8 674.6 523.6 674.8 512.9 675.1 511.5 675.4 490.5 675.6 498.9 675.9 490.5 676.2 483.1 676.4 509.2 676.7 501.5 677.0 504.0 677.3 510.6 677.5 515.4 677.8 512.8 678.1 508.9 678.3 518.8 678.6 525.8 678.9 508.0 679.1 517.2 679.4 507.6 679.7 513.7 680.0 519.6 680.2 499.8 680.5 487.8 680.8 501.1 681.0 515.4 681.3 507.2 681.6 511.3 681.8 513.8 682.1 494.3 682.4 506.0 682.7 501.2 682.9 503.7 683.2 499.0 683.5 505.4 683.7 515.2 684.0 524.2 684.3 522.3 684.5 512.6 684.8 511.6 685.1 503.8 685.4 486.8 685.6 489.9 685.9 511.0 686.2 500.7 686.4 514.9 686.7 518.2 687.0 502.7 687.2 506.5 687.5 511.5 687.8 504.8 688.1 500.8 688.3 502.4 688.6 508.9 688.9 502.7 689.1 512.3 689.4 519.0 689.7 515.5 689.9 534.2 690.2 495.0 690.5 497.0 690.8 494.7 691.0 471.6 691.3 487.8 691.6 500.4 691.8 492.7 692.1 510.0 692.4 502.6 692.6 520.1 692.9 521.0 693.2 525.0 693.5 533.4 693.7 527.8 694.0 530.9 694.3 519.4 694.5 507.0 694.8 512.2 695.1 511.7 695.3 501.3 695.6 523.0 695.9 516.1 696.2 521.7 696.4 509.8 696.7 514.2 697.0 508.8 697.2 496.4 697.5 492.7 697.8 473.2 698.0 504.5 698.3 492.5 698.6 487.6 698.9 505.4 699.1 514.8 699.4 530.5 699.7 519.0 699.9 522.5 700.2 505.5 700.5 523.7 700.7 501.6 701.0 509.2 701.3 494.1 701.6 511.6 701.8 503.7 702.1 525.8 702.4 528.4 702.6 506.9 702.9 505.2 703.2 498.0 703.4 494.4 703.7 500.0 704.0 494.5 704.3 489.3 704.5 501.8 704.8 512.0 705.1 496.0 705.3 506.7 705.6 509.2 705.9 506.7 706.1 500.9 706.4 504.7 706.7 499.1 707.0 493.4 707.2 484.7 707.5 514.4 707.8 519.1 708.0 502.6 708.3 512.1 708.6 528.5 708.8 516.9 709.1 528.9 709.4 519.5 709.7 504.7 709.9 505.1 710.2 493.9 710.5 502.6 710.7 490.6 711.0 525.4 711.3 516.8 711.5 519.8 711.8 515.7 712.1 518.9 712.4 516.5 712.6 513.2 712.9 514.1 713.2 500.1 713.4 509.6 713.7 500.9 714.0 490.8 714.2 485.0 714.5 497.3 714.8 504.1 715.1 490.3 715.3 525.5 715.6 534.3 715.9 521.9 716.1 526.3 716.4 531.5 716.7 534.1 716.9 514.6 717.2 499.8 717.5 502.8 717.8 474.3 718.0 492.5 718.3 497.5 718.6 491.6 718.8 499.1 719.1 502.2 719.4 505.3 719.6 502.2 719.9 497.2 720.2 505.1 720.5 505.3 720.7 517.0 721.0 516.2 721.3 505.3 721.5 499.9 721.8 501.2 722.1 504.2 722.3 517.6 722.6 511.4 722.9 507.8 723.2 502.6 723.4 515.8 723.7 507.0 724.0 498.8 724.2 494.7 724.5 501.2 724.8 487.3 725.0 500.9 725.3 504.3 725.6 501.6 725.9 512.8 726.1 511.4 726.4 508.0 726.7 510.3 726.9 508.8 727.2 516.4 727.5 511.2 727.7 510.5 728.0 506.8 728.3 481.3 728.6 502.5 728.8 490.8 729.1 504.2 729.4 502.4 729.6 511.3 729.9 521.7 730.2 498.1 730.4 505.7 730.7 499.3 731.0 489.3 731.3 510.1 731.5 506.9 731.8 502.2 732.1 499.7 732.3 532.2 732.6 505.5 732.9 501.6 733.1 512.7 733.4 522.1 733.7 521.7 734.0 521.6 734.2 502.9 734.5 505.7 734.8 488.9 735.0 477.8 735.3 476.3 735.6 485.2 735.8 502.3 736.1 505.8 736.4 504.8 736.7 511.2 736.9 515.8 737.2 527.9 737.5 499.1 737.7 504.3 738.0 505.2 738.3 491.5 738.5 500.6 738.8 499.9 739.1 496.4 739.4 510.5 739.6 515.7 739.9 521.5 740.2 516.6 740.4 519.6 740.7 532.6 741.0 502.2 741.2 500.3 741.5 494.4 741.8 483.7 742.1 488.6 742.3 489.2 742.6 503.4 742.9 511.0 743.1 505.5 743.4 509.1 743.7 505.7 743.9 501.0 744.2 499.8 744.5 488.7 744.8 497.0 745.0 503.8 745.3 509.3 745.6 514.6 745.8 504.4 746.1 520.0 746.4 503.6 746.6 506.1 746.9 511.9 747.2 492.7 747.5 505.3 747.7 501.0 748.0 500.6 748.3 501.5 748.5 517.8 748.8 516.4 749.1 530.0 749.3 530.9 749.6 512.8 749.9 515.7 750.2 515.2 750.4 503.5 750.7 498.3 751.0 501.2 751.2 492.1 751.5 479.2 751.8 489.0 752.0 503.8 752.3 494.7 752.6 504.1 752.9 521.9 753.1 516.8 753.4 490.5 753.7 491.0 753.9 505.1 754.2 486.2 754.5 492.5 754.7 490.2 755.0 506.0 755.3 479.3 755.6 484.9 755.8 496.9 756.1 522.7 756.4 510.7 756.6 491.5 756.9 516.4 757.2 517.2 757.4 504.6 757.7 500.1 758.0 501.0 758.3 508.9 758.5 508.9 758.8 515.8 759.1 508.6 759.3 506.5 759.6 505.4 759.9 517.7 760.1 517.5 760.4 515.1 760.7 519.3 761.0 505.8 761.2 497.1 761.5 475.1 761.8 494.0 762.0 496.6 762.3 506.1 762.6 511.7 762.8 532.2 763.1 532.8 763.4 520.5 763.7 509.4 763.9 509.8 764.2 502.1 764.5 515.4 764.7 482.4 765.0 480.4 765.3 499.6 765.5 503.2 765.8 504.7 766.1 508.5 766.4 521.0 766.6 502.3 766.9 506.2 767.2 501.7 767.4 516.1 767.7 518.2 768.0 508.3 768.2 519.9 768.5 512.8 768.8 523.8 769.1 508.8 769.3 495.7 769.6 495.6 769.9 480.1 770.1 476.2 770.4 494.3 770.7 503.9 770.9 514.4 771.2 495.1 771.5 491.7 771.8 486.0 772.0 507.2 772.3 501.2 772.6 496.6 772.8 506.8 773.1 504.3 773.4 487.4 773.6 511.5 773.9 504.4 774.2 505.1 774.5 505.8 774.7 523.7 775.0 522.6 775.3 528.7 775.5 504.7 775.8 509.5 776.1 517.4 776.3 501.5 776.6 501.6 776.9 489.6 777.2 519.9 777.4 516.7 777.7 514.9 778.0 519.9 778.2 520.5 778.5 516.6 778.8 519.8 779.0 501.6 779.3 512.2 779.6 500.7 779.9 498.3 780.1 512.5 780.4 502.9 780.7 508.7 780.9 501.1 781.2 490.5 781.5 505.0 781.7 490.4 782.0 504.6 782.3 487.7 782.6 489.0 782.8 504.6 783.1 508.7 783.4 509.1 783.6 499.9 783.9 510.5 784.2 489.0 784.4 494.0 784.7 490.1 785.0 494.7 785.3 509.7 785.5 508.3 785.8 526.4 786.1 530.2 786.3 508.6 786.6 507.5 786.9 507.5 787.1 503.6 787.4 507.9 787.7 492.1 788.0 516.7 788.2 520.3 788.5 515.7 788.8 507.4 789.0 514.9 789.3 508.6 789.6 514.4 789.8 507.1 790.1 514.4 790.4 506.4 790.7 521.9 790.9 496.2 791.2 503.2 791.5 515.7 791.7 503.1 792.0 513.0 792.3 493.1 792.5 497.6 792.8 493.8 793.1 503.3 793.4 515.3 793.6 514.6 793.9 512.2 794.2 529.7 794.4 517.7 794.7 507.8 795.0 519.7 795.2 515.9 795.5 513.1 795.8 513.2 796.1 490.6 796.3 499.8 796.6 500.7 796.9 498.2 797.1 505.1 797.4 485.5 797.7 506.5 797.9 525.4 798.2 506.5 798.5 517.9 798.8 521.2 799.0 520.1 799.3 522.4 799.6 493.2 799.8 500.7 800.1 503.8 800.4 491.2 800.6 504.9 800.9 523.1 801.2 520.4 801.5 516.1 801.7 487.9 802.0 503.4 802.3 504.3 802.5 496.2 802.8 497.3 803.1 521.9 803.3 504.2 803.6 508.7 803.9 525.7 804.2 522.4 804.4 524.1 804.7 524.0 805.0 524.2 805.2 513.0 805.5 495.9 805.8 503.0 806.0 507.5 806.3 507.0 806.6 521.6 806.9 521.1 807.1 503.5 807.4 515.5 807.7 527.4 807.9 520.8 808.2 508.7 808.5 518.9 808.7 505.0 809.0 496.0 809.3 503.9 809.6 498.3 809.8 500.4 810.1 497.6 810.4 501.3 810.6 497.1 810.9 505.5 811.2 511.4 811.4 512.0 811.7 517.8 812.0 496.1 812.3 499.6 812.5 515.0 812.8 513.8 813.1 501.0 813.3 495.8 813.6 488.8 813.9 506.2 814.1 514.3 814.4 498.8 814.7 518.1 815.0 512.1 815.2 508.9 815.5 492.9 815.8 508.4 816.0 491.5 816.3 530.8 816.6 516.4 816.8 498.1 817.1 525.3 817.4 528.2 817.7 508.5 817.9 530.0 818.2 488.0 818.5 493.8 818.7 494.8 819.0 462.6 819.3 492.3 819.5 480.0 819.8 492.9 820.1 490.2 820.4 515.8 820.6 507.2 820.9 517.3 821.2 522.7 821.4 506.2 821.7 532.1 822.0 488.5 822.2 497.5 822.5 498.7 822.8 499.9 823.1 513.4 823.3 519.5 823.6 517.1 823.9 529.3 824.1 535.6 824.4 536.6 824.7 520.4 824.9 491.3 825.2 463.8 825.5 528.4 825.8 523.4 826.0 511.8 826.3 507.0 826.6 492.7 826.8 481.0 827.1 482.4 827.4 482.0 827.6 481.7 827.9 478.3 828.2 498.0 828.4 518.7 828.7 507.4 829.0 513.0 829.3 471.4 829.5 487.9 829.8 487.0 830.1 466.7 830.3 462.8 830.6 500.7 830.9 494.3 831.1 518.2 831.4 507.4 831.7 525.7 832.0 520.2 832.2 506.9 832.5 513.7 832.8 492.4 833.0 499.2 833.3 491.3 833.6 502.0 833.8 533.6 834.1 543.3 834.4 535.8 834.7 533.9 834.9 519.2 835.2 509.1 835.5 506.2 835.7 506.2 836.0 502.2 836.3 498.1 836.5 530.8 836.8 495.6 837.1 477.6 837.4 475.9 837.6 489.7 837.9 502.4 838.2 500.7 838.4 501.3 838.7 541.5 839.0 501.6 839.2 516.4 839.5 493.8 839.8 501.0 840.1 504.3 840.3 483.9 840.6 487.9 840.9 499.2 841.1 524.0 841.4 546.8 841.7 517.3 841.9 550.5 842.2 535.0 842.5 540.4 842.8 508.9 843.0 499.9 843.3 469.8 843.6 465.1 843.8 462.6 844.1 496.7 844.4 528.0 844.6 521.6 844.9 527.9 845.2 505.6 845.5 524.1 845.7 486.5 846.0 493.7 846.3 481.2 846.5 469.3 846.8 501.0 847.1 491.7 847.3 494.6 847.6 512.5 847.9 510.2 848.2 515.9 848.4 535.8 848.7 523.3 849.0 517.0 849.2 500.4 849.5 492.0 849.8 499.5 850.0 497.0 850.3 505.5 850.6 522.2 850.9 499.8 851.1 525.9 851.4 497.6 851.7 502.0 851.9 508.7 852.2 480.3 852.5 470.5 852.7 485.0 853.0 479.7 853.3 492.2 853.6 496.4 853.8 544.1 854.1 522.8 854.4 524.2 854.6 550.6 854.9 543.2 855.2 524.3 855.4 532.6 855.7 507.2 856.0 504.6 856.3 491.9 856.5 480.1 856.8 503.6 857.1 503.5 857.3 502.6 857.6 512.5 857.9 529.9 858.1 511.7 858.4 512.0 858.7 517.2 859.0 510.2 859.2 495.4 859.5 517.9 859.8 520.2 860.0 511.1 860.3 517.1 860.6 504.2 860.8 509.0 861.1 523.8 861.4 511.5 861.7 523.6 861.9 517.9 862.2 502.0 862.5 510.7 862.7 512.8 863.0 506.0 863.3 527.1 863.5 519.8 863.8 519.3 864.1 515.7 864.4 527.2 864.6 515.0 864.9 505.0 865.2 510.8 865.4 511.0 865.7 501.0 866.0 507.5 866.2 507.1 866.5 500.9 866.8 504.9 867.1 508.0 867.3 519.9 867.6 512.5 867.9 513.8 868.1 520.4 868.4 530.1 868.7 516.4 868.9 534.2 869.2 532.6 869.5 528.8 869.8 521.6 870.0 521.3 870.3 510.1 870.6 490.3 870.8 505.6 871.1 493.9 871.4 491.4 871.6 486.6 871.9 489.7 872.2 476.8 872.5 492.0 872.7 481.3 873.0 486.6 873.3 499.5 873.5 541.1 873.8 499.7 874.1 515.2 874.3 512.5 874.6 480.4 874.9 560.0 875.2 505.1 875.4 496.0 875.7 519.8 876.0 502.8 876.2 494.2 876.5 523.6 876.8 524.9 877.0 517.5 877.3 506.0 877.6 528.3 877.9 474.7 878.1 473.0 878.4 463.5 878.7 480.4 878.9 486.6 879.2 499.1 879.5 507.3 879.7 512.6 880.0 518.5 880.3 521.5 880.6 537.5 880.8 512.6 881.1 509.1 881.4 478.9 881.6 464.8 881.9 462.6 882.2 497.6 882.4 489.4 882.7 528.0 883.0 550.6 883.3 537.6 883.5 534.6 883.8 500.6 884.1 474.6 884.3 486.2 884.6 482.6 884.9 505.0 885.1 523.4 885.4 496.1 885.7 507.2 886.0 518.8 886.2 519.8 886.5 509.2 886.8 524.4 887.0 452.0 887.3 509.2 887.6 498.3 887.8 517.0 888.1 507.4 888.4 529.3 888.7 503.1 888.9 567.0 889.2 487.1 889.5 482.2 889.7 478.5 890.0 474.2 890.3 511.6 890.5 496.8 890.8 501.6 891.1 526.5 891.4 501.2 891.6 518.5 891.9 514.2 892.2 521.4 892.4 506.5 892.7 504.8 893.0 508.5 893.2 520.5 893.5 529.4 893.8 496.5 894.1 511.5 894.3 504.0 894.6 505.0 894.9 496.0 895.1 519.6 895.4 509.6 895.7 517.0 895.9 518.5 896.2 503.2 896.5 512.1 896.8 492.7 897.0 493.2 897.3 494.0 897.6 494.6 897.8 493.1 898.1 488.3 898.4 506.7 898.6 499.9 898.9 501.1 899.2 520.7 899.5 531.7 899.7 533.2 900.0 522.5 900.3 509.4 900.5 517.2 900.8 486.8 901.1 475.5 901.3 475.8 901.6 478.8 901.9 506.2 902.2 508.2 902.4 528.8 902.7 494.7 903.0 528.9 903.2 534.6 903.5 536.2 903.8 504.9 904.0 473.9 904.3 497.1 904.6 487.8 904.9 487.5 905.1 503.6 905.4 522.7 905.7 521.2 905.9 514.5 906.2 488.1 906.5 531.2 906.7 486.2 907.0 504.9 907.3 486.1 907.6 527.2 907.8 524.3 908.1 531.4 908.4 522.9 908.6 514.9 908.9 516.1 909.2 487.4 909.4 514.3 909.7 506.7 910.0 486.9 910.3 492.2 910.5 499.1 910.8 521.1 911.1 513.1 911.3 494.4 911.6 480.3 911.9 462.6 912.1 468.2 912.4 491.0 912.7 504.0 913.0 520.4 913.2 534.1 913.5 530.6 913.8 520.7 914.0 514.4 914.3 494.2 914.6 489.5 914.8 499.9 915.1 480.2 915.4 529.2 915.7 501.1 915.9 530.1 916.2 520.0 916.5 539.7 916.7 521.8 917.0 498.5 917.3 517.5 917.5 503.7 917.8 503.8 918.1 503.2 918.4 531.6 918.6 545.0 918.9 546.0 919.2 509.8 919.4 536.7 919.7 544.1 920.0 550.6 920.2 530.8 920.5 497.7 920.8 494.7 921.1 462.6 921.3 468.1 921.6 485.1 921.9 465.1 922.1 509.6 922.4 503.4 922.7 485.0 922.9 476.7 923.2 517.5 923.5 550.6 923.8 550.6 924.0 543.1 924.3 546.6 924.6 467.9 924.8 462.6 925.1 462.6 925.4 462.6 925.6 474.3 925.9 498.1 926.2 534.4 926.5 544.0 926.7 550.2 927.0 544.6 927.3 540.5 927.5 513.4 927.8 498.5 928.1 496.6 928.3 462.6 928.6 486.5 928.9 503.0 929.2 514.0 929.4 489.9 929.7 532.1 930.0 517.8 930.2 502.3 930.5 514.0 930.8 508.5 931.0 500.7 931.3 515.4 931.6 496.8 931.9 484.9 932.1 496.1 932.4 505.7 932.7 493.5 932.9 516.7 933.2 485.3 933.5 521.2 933.7 512.5 934.0 493.7 934.3 506.0 934.6 515.1 934.8 488.5 935.1 464.7 935.4 481.4 935.6 517.6 935.9 469.8 936.2 518.0 936.4 517.2 936.7 521.8 937.0 513.6 937.3 508.5 937.5 529.5 937.8 518.1 938.1 487.5 938.3 518.1 938.6 471.2 938.9 505.1 939.1 502.5 939.4 518.5 939.7 512.4 940.0 541.9 940.2 536.0 940.5 550.6 940.8 539.8 941.0 543.9 941.3 479.2 941.6 493.4 941.8 485.4 942.1 489.8 942.4 486.9 942.7 510.0 942.9 489.8 943.2 494.5 943.5 524.3 943.7 481.6 944.0 518.8 944.3 493.3 944.5 515.0 944.8 526.8 945.1 540.2 945.4 535.4 945.6 535.1 945.9 541.7 946.2 550.6 946.4 546.5 946.7 535.5 947.0 510.4 947.2 496.9 947.5 475.8 947.8 500.7 948.1 493.9 948.3 471.7 948.6 481.3 948.9 492.5 949.1 486.1 949.4 507.2 949.7 509.7 949.9 495.0 950.2 524.8 950.5 538.3 950.8 550.6 951.0 533.6 951.3 527.2 951.6 506.3 951.8 508.4 952.1 505.7 952.4 511.7 952.6 503.6 952.9 489.8 953.2 487.7 953.5 487.3 953.7 486.8 954.0 508.2 954.3 462.6 954.5 501.6 954.8 519.4 955.1 526.4 955.3 489.6 955.6 501.3 955.9 504.6 956.2 484.9 956.4 471.6 956.7 501.4 957.0 496.6 957.2 527.2 957.5 510.9 957.8 545.5 958.0 523.6 958.3 509.5 958.6 511.0 958.9 499.1 959.1 515.6 959.4 530.9 959.7 514.7 959.9 529.6 960.2 511.6 960.5 524.2 960.7 546.1 961.0 504.2 961.3 518.0 961.6 512.5 961.8 479.8 962.1 480.4 962.4 483.9 962.6 503.5 962.9 500.0 963.2 515.0 963.4 525.8 963.7 519.8 964.0 517.0 964.3 514.4 964.5 526.1 964.8 490.6 965.1 507.8 965.3 483.5 965.6 479.6 965.9 491.2 966.1 494.3 966.4 484.8 966.7 512.4 967.0 504.9 967.2 511.7 967.5 534.9 967.8 521.2 968.0 528.6 968.3 517.4 968.6 534.8 968.8 507.4 969.1 492.9 969.4 489.3 969.7 481.5 969.9 496.9 970.2 501.2 970.5 515.6 970.7 512.1 971.0 508.6 971.3 503.2 971.5 491.2 971.8 492.7 972.1 499.9 972.4 509.6 972.6 503.4 972.9 497.9 973.2 514.8 973.4 523.1 973.7 489.5 974.0 500.4 974.2 507.2 974.5 496.9 974.8 491.8 975.1 520.2 975.3 515.6 975.6 495.0 975.9 516.3 976.1 520.7 976.4 492.5 976.7 542.1 976.9 505.5 977.2 512.8 977.5 506.7 977.8 515.9 978.0 498.6 978.3 506.7 978.6 511.5 978.8 497.1 979.1 490.6 979.4 517.6 979.6 505.9 979.9 534.6 980.2 531.6 980.5 539.4 980.7 532.2 981.0 528.7 981.3 517.0 981.5 509.6 981.8 511.6 982.1 515.2 982.3 506.7 982.6 490.4 982.9 493.4 983.2 478.4 983.4 483.2 983.7 494.2 984.0 506.6 984.2 513.7 984.5 541.7 984.8 529.2 985.0 509.5 985.3 534.0 985.6 492.3 985.9 489.9 986.1 480.6 986.4 494.6 986.7 472.1 986.9 494.2 987.2 488.9 987.5 487.5 987.7 489.9 988.0 511.1 988.3 503.2 988.6 511.1 988.8 520.2 989.1 504.9 989.4 509.2 989.6 511.4 989.9 512.7 990.2 503.7 990.4 494.9 990.7 530.8 991.0 483.1 991.2 502.6 991.5 506.2 991.8 510.2 992.1 504.5 992.3 514.9 992.6 511.7 992.9 502.1 993.1 514.9 993.4 502.5 993.7 494.6 993.9 505.6 994.2 477.2 994.5 495.9 994.8 486.5 995.0 504.5 995.3 507.4 995.6 508.8 995.8 493.0 996.1 497.2 996.4 499.2 996.6 518.6 996.9 522.2 997.2 514.8 997.5 493.1 997.7 498.6 998.0 491.8 998.3 495.3 998.5 511.1 998.8 514.7 999.1 500.4 999.3 484.6 999.6 509.2 999.9 498.3 1000.2 494.1 1000.4 540.0 1000.7 527.4 1001.0 524.7 1001.2 537.5 1001.5 515.6 1001.8 525.1 1002.0 474.9 1002.3 481.0 1002.6 503.1 1002.9 501.5 1003.1 534.0 1003.4 493.3 1003.7 508.7 1003.9 523.4 1004.2 528.6 1004.5 530.9 1004.7 522.8 1005.0 540.9 1005.3 512.0 1005.6 510.9 1005.8 512.8 1006.1 505.7 1006.4 507.2 1006.6 505.0 1006.9 505.5 1007.2 504.6 1007.4 513.5 1007.7 496.9 1008.0 511.2 1008.3 480.3 1008.5 511.2 1008.8 506.4 1009.1 502.6 1009.3 497.6 1009.6 516.0 1009.9 550.6 1010.1 550.6 1010.4 550.6 1010.7 516.7 1011.0 512.8 1011.2 469.6 1011.5 465.2 1011.8 462.6 1012.0 462.6 1012.3 481.8 1012.6 480.1 1012.8 485.6 1013.1 514.5 1013.4 512.9 1013.7 540.9 1013.9 503.4 1014.2 534.9 1014.5 530.1 1014.7 494.4 1015.0 494.2 1015.3 519.0 1015.5 498.4 1015.8 497.5 1016.1 507.5 1016.4 490.7 1016.6 492.4 1016.9 481.0 1017.2 499.5 1017.4 512.9 1017.7 514.5 1018.0 492.0 1018.2 521.1 1018.5 511.6 1018.8 496.3 1019.1 513.2 1019.3 484.2 1019.6 517.6 1019.9 498.9 1020.1 528.3 1020.4 515.9 1020.7 505.7 1020.9 512.5 1021.2 503.6 1021.5 498.0 1021.8 502.7 1022.0 480.0 1022.3 502.6 1022.6 510.1 1022.8 505.3 1023.1 504.0 1023.4 508.2 1023.6 518.4 1023.9 519.3 1024.2 504.1 1024.5 496.2 1024.7 514.6 1025.0 477.7 1025.3 483.9 1025.5 477.6 1025.8 478.3 1026.1 495.4 1026.3 498.4 1026.6 518.2 1026.9 529.0 1027.2 514.0 1027.4 523.7 1027.7 523.7 1028.0 511.0 1028.2 503.0 1028.5 510.5 1028.8 488.0 1029.0 486.1 1029.3 485.1 1029.6 491.6 1029.9 498.9 1030.1 518.1 1030.4 529.7 1030.7 516.5 1030.9 500.2 1031.2 500.2 1031.5 480.0 1031.7 478.4 1032.0 493.0 1032.3 504.1 1032.6 493.6 1032.8 489.2 1033.1 510.4 1033.4 493.7 1033.6 508.8 1033.9 523.8 1034.2 515.0 1034.4 497.4 1034.7 496.7 1035.0 512.4 1035.3 508.6 1035.5 509.4 1035.8 521.9 1036.1 514.6 1036.3 506.9 1036.6 522.7 1036.9 508.6 1037.1 499.3 1037.4 493.0 1037.7 502.0 1038.0 493.4 1038.2 508.8 1038.5 504.1 1038.8 514.2 1039.0 503.8 1039.3 504.9 1039.6 499.4 1039.8 504.9 1040.1 520.3 1040.4 540.1 1040.7 506.9 1040.9 504.5 1041.2 512.3 1041.5 508.0 1041.7 488.2 1042.0 487.9 1042.3 475.1 1042.5 492.0 1042.8 507.3 1043.1 523.1 1043.4 516.8 1043.6 525.0 1043.9 530.2 1044.2 530.1 1044.4 520.6 1044.7 499.9 1045.0 501.1 1045.2 504.0 1045.5 494.4 1045.8 490.9 1046.1 501.1 1046.3 491.2 1046.6 490.0 1046.9 483.6 1047.1 483.6 1047.4 496.8 1047.7 498.0 1047.9 504.8 1048.2 507.8 1048.5 505.6 1048.8 515.8 1049.0 498.3 1049.3 516.3 1049.6 510.6 1049.8 525.8 1050.1 504.0 1050.4 482.8 1050.6 487.2 1050.9 474.2 1051.2 476.4 1051.5 511.7 1051.7 510.8 1052.0 525.4 1052.3 515.8 1052.5 508.8 1052.8 500.3 1053.1 491.9 1053.3 517.1 1053.6 515.5 1053.9 526.6 1054.2 518.8 1054.4 498.5 1054.7 479.4 1055.0 493.4 1055.2 507.8 1055.5 498.8 1055.8 521.1 1056.0 537.8 1056.3 510.3 1056.6 509.4 1056.9 497.0 1057.1 521.6 1057.4 508.1 1057.7 496.5 1057.9 484.0 1058.2 503.0 1058.5 515.3 1058.7 507.8 1059.0 511.4 1059.3 523.7 1059.6 509.1 1059.8 525.7 1060.1 529.6 1060.4 511.1 1060.6 500.1 1060.9 498.9 1061.2 479.2 1061.4 477.7 1061.7 480.5 1062.0 490.1 1062.3 487.4 1062.5 495.3 1062.8 510.1 1063.1 520.9 1063.3 528.5 1063.6 516.1 1063.9 537.2 1064.1 535.1 1064.4 520.2 1064.7 517.6 1065.0 514.2 1065.2 515.7 1065.5 486.0 1065.8 499.8 1066.0 496.4 1066.3 501.6 1066.6 517.5 1066.8 514.9 1067.1 500.7 1067.4 502.6 1067.7 501.5 1067.9 487.3 1068.2 503.3 1068.5 488.7 1068.7 493.7 1069.0 494.4 1069.3 522.4 1069.5 506.2 1069.8 508.7 1070.1 535.3 1070.4 521.5 1070.6 519.8 1070.9 509.4 1071.2 519.7 1071.4 506.9 1071.7 500.4 1072.0 493.0 1072.2 494.1 1072.5 491.2 1072.8 493.7 1073.1 507.3 1073.3 505.3 1073.6 521.1 1073.9 506.6 1074.1 505.9 1074.4 498.5 1074.7 511.9 1074.9 487.8 1075.2 502.0 1075.5 506.5 1075.8 499.6 1076.0 510.0 1076.3 494.4 1076.6 511.5 1076.8 505.7 1077.1 517.9 1077.4 511.8 1077.6 496.6 1077.9 505.0 1078.2 501.6 1078.5 504.0 1078.7 515.3 1079.0 514.3 1079.3 525.1 1079.5 541.4 1079.8 509.3 1080.1 515.3 1080.3 505.9 1080.6 512.8 1080.9 503.9 1081.2 499.9 1081.4 490.7 1081.7 503.0 1082.0 522.0 1082.2 512.5 1082.5 519.3 1082.8 504.4 1083.0 480.6 1083.3 497.5 1083.6 492.3 1083.9 481.6 1084.1 485.1 1084.4 499.4 1084.7 499.7 1084.9 515.3 1085.2 508.6 1085.5 488.8 1085.7 499.5 1086.0 491.9 1086.3 489.4 1086.6 503.8 1086.8 506.8 1087.1 527.3 1087.4 538.2 1087.6 528.3 1087.9 507.6 1088.2 510.1 1088.4 522.5 1088.7 502.8 1089.0 494.7 1089.3 502.0 1089.5 511.1 1089.8 513.2 1090.1 514.7 1090.3 498.1 1090.6 503.8 1090.9 506.1 1091.1 504.8 1091.4 487.9 1091.7 501.1 1092.0 487.9 1092.2 499.3 1092.5 493.0 1092.8 495.5 1093.0 495.8 1093.3 495.9 1093.6 515.6 1093.8 516.2 1094.1 521.4 1094.4 505.3 1094.7 499.6 1094.9 498.0 1095.2 502.2 1095.5 486.0 1095.7 508.2 1096.0 514.6 1096.3 486.1 1096.5 507.9 1096.8 506.5 1097.1 510.9 1097.4 505.3 1097.6 508.3 1097.9 517.2 1098.2 513.1 1098.4 507.5 1098.7 503.1 1099.0 498.9 1099.2 494.7 1099.5 497.8 1099.8 498.4 1100.1 448.0 1100.3 501.3 1100.6 529.7 1100.9 543.3 1101.1 527.8 1101.4 501.2 1101.7 513.3 1101.9 487.8 1102.2 462.6 1102.5 480.2 1102.8 492.2 1103.0 497.2 1103.3 511.9 1103.6 518.7 1103.8 513.1 1104.1 494.5 1104.4 510.2 1104.6 524.5 1104.9 528.4 1105.2 508.9 1105.5 514.4 1105.7 518.4 1106.0 487.5 1106.3 480.1 1106.5 497.0 1106.8 503.0 1107.1 501.0 1107.3 488.0 1107.6 510.2 1107.9 496.7 1108.2 510.0 1108.4 500.9 1108.7 502.2 1109.0 501.9 1109.2 496.7 1109.5 513.4 1109.8 516.9 1110.0 512.6 1110.3 520.1 1110.6 504.3 1110.9 517.6 1111.1 511.8 1111.4 501.0 1111.7 557.0 1111.9 500.0 1112.2 505.3 1112.5 506.9 1112.7 512.3 1113.0 500.8 1113.3 501.8 1113.6 481.6 1113.8 501.5 1114.1 517.0 1114.4 525.7 1114.6 530.3 1114.9 522.3 1115.2 517.0 1115.4 519.8 1115.7 506.5 1116.0 503.7 1116.3 517.7 1116.5 497.3 1116.8 523.2 1117.1 498.2 1117.3 513.6 1117.6 494.5 1117.9 505.1 1118.1 490.6 1118.4 498.2 1118.7 493.2 1119.0 490.1 1119.2 503.0 1119.5 523.4 1119.8 509.2 1120.0 537.2 1120.3 532.7 1120.6 542.2 1120.8 550.6 1121.1 517.9 1121.4 517.8 1121.7 479.0 1121.9 474.5 1122.2 465.6 1122.5 517.8 1122.7 492.7 1123.0 525.2 1123.3 532.6 1123.5 525.4 1123.8 525.4 1124.1 526.6 1124.4 504.8 1124.6 500.6 1124.9 500.6 1125.2 480.5 1125.4 490.4 1125.7 508.7 1126.0 517.9 1126.2 513.7 1126.5 523.5 1126.8 526.8 1127.1 516.6 1127.3 508.0 1127.6 495.6 1127.9 495.6 1128.1 485.0 1128.4 490.1 1128.7 507.7 1128.9 494.3 1129.2 512.8 1129.5 502.7 1129.8 506.4 1130.0 522.7 1130.3 508.7 1130.6 499.3 1130.8 493.1 1131.1 495.7 1131.4 521.9 1131.6 483.1 1131.9 506.6 1132.2 507.2 1132.5 515.7 1132.7 505.9 1133.0 488.8 1133.3 533.7 1133.5 512.8 1133.8 519.6 1134.1 503.1 1134.3 499.4 1134.6 493.9 1134.9 496.6 1135.2 492.3 1135.4 479.9 1135.7 499.6 1136.0 503.4 1136.2 524.5 1136.5 536.0 1136.8 543.0 1137.0 521.4 1137.3 518.3 1137.6 515.6 1137.9 507.5 1138.1 493.9 1138.4 520.4 1138.7 486.8 1138.9 494.5 1139.2 490.9 1139.5 511.7 1139.7 487.7 1140.0 549.8 1140.3 531.7 1140.6 524.2 1140.8 537.3 1141.1 550.6 1141.4 520.0 1141.6 486.7 1141.9 481.9 1142.2 498.4 1142.4 476.3 1142.7 496.5 1143.0 510.5 1143.3 547.5 1143.5 522.1 1143.8 534.0 1144.1 505.6 1144.3 497.1 1144.6 509.1 1144.9 508.8 1145.1 492.2 1145.4 520.9 1145.7 523.9 1146.0 504.7 1146.2 506.4 1146.5 499.0 1146.8 490.6 1147.0 491.4 1147.3 501.3 1147.6 517.1 1147.8 515.3 1148.1 531.8 1148.4 512.6 1148.7 523.8 1148.9 517.8 1149.2 496.7 1149.5 510.9 1149.7 529.6 1150.0 527.7 1150.3 498.6 1150.5 524.9 1150.8 501.8 1151.1 497.5 1151.3 493.1 1151.6 503.0 1151.9 527.4 1152.2 533.8 1152.4 528.8 1152.7 525.6 1153.0 524.3 1153.2 526.8 1153.5 530.4 1153.8 494.7 1154.0 504.3 1154.3 502.9 1154.6 502.1 1154.9 520.5 1155.1 530.4 1155.4 511.1 1155.7 513.3 1155.9 534.6 1156.2 523.7 1156.5 520.2 1156.7 501.9 1157.0 494.7 1157.3 493.2 1157.6 481.7 1157.8 479.8 1158.1 491.1 1158.4 503.4 1158.6 494.7 1158.9 520.4 1159.2 519.8 1159.4 510.1 1159.7 515.6 1160.0 507.3 1160.3 502.8 1160.5 496.3 1160.8 479.8 1161.1 488.9 1161.3 521.1 1161.6 514.7 1161.9 515.6 1162.1 508.1 1162.4 514.4 1162.7 478.8 1163.0 497.5 1163.2 482.4 1163.5 505.8 1163.8 522.2 1164.0 498.1 1164.3 512.3 1164.6 498.7 1164.8 498.8 1165.1 508.6 1165.4 499.1 1165.7 505.9 1165.9 526.1 1166.2 534.1 1166.5 519.1 1166.7 501.3 1167.0 549.2 1167.3 522.1 1167.5 497.9 1167.8 462.6 1168.1 466.4 1168.4 483.4 1168.6 475.2 1168.9 521.4 1169.2 519.7 1169.4 532.7 1169.7 510.9 1170.0 513.0 1170.2 517.0 1170.5 529.1 1170.8 508.0 1171.1 492.2 1171.3 493.0 1171.6 491.6 1171.9 516.1 1172.1 501.2 1172.4 498.7 1172.7 512.6 1172.9 539.4 1173.2 514.3 1173.5 525.0 1173.8 513.9 1174.0 509.2 1174.3 490.1 1174.6 464.3 1174.8 464.3 1175.1 489.2 1175.4 515.1 1175.6 535.4 1175.9 546.1 1176.2 527.7 1176.5 517.1 1176.7 533.3 1177.0 495.1 1177.3 510.5 1177.5 476.6 1177.8 481.6 1178.1 462.6 1178.3 462.6 1178.6 477.8 1178.9 470.2 1179.2 488.5 1179.4 501.0 1179.7 511.0 1180.0 546.0 1180.2 512.1 1180.5 512.5 1180.8 476.7 1181.0 478.9 1181.3 482.3 1181.6 496.2 1181.9 495.8 1182.1 508.6 1182.4 531.4 1182.7 508.4 1182.9 506.9 1183.2 499.2 1183.5 543.9 1183.7 528.8 1184.0 512.9 1184.3 514.3 1184.6 496.2 1184.8 502.7 1185.1 511.6 1185.4 513.6 1185.6 503.9 1185.9 504.0 1186.2 512.2 1186.4 500.6 1186.7 465.5 1187.0 485.8 1187.3 500.1 1187.5 480.0 1187.8 495.6 1188.1 488.2 1188.3 515.6 1188.6 502.2 1188.9 505.8 1189.1 516.8 1189.4 550.0 1189.7 512.3 1190.0 497.7 1190.2 517.7 1190.5 510.5 1190.8 519.7 1191.0 492.5 1191.3 485.4 1191.6 496.6 1191.8 505.0 1192.1 516.0 1192.4 528.0 1192.7 503.7 1192.9 510.2 1193.2 513.9 1193.5 514.7 1193.7 505.4 1194.0 493.6 1194.3 487.8 1194.5 516.2 1194.8 528.9 1195.1 550.6 1195.4 526.8 1195.6 540.6 1195.9 495.7 1196.2 494.6 1196.4 485.0 1196.7 485.5 1197.0 481.0 1197.2 494.8 1197.5 515.6 1197.8 520.5 1198.1 534.6 1198.3 524.8 1198.6 523.0 1198.9 532.3 1199.1 514.4 1199.4 505.5 1199.7 499.3 1199.9 494.6 1200.2 500.6 1200.5 489.7 1200.8 511.5 1201.0 520.8 1201.3 525.8 1201.6 515.3 1201.8 509.4 1202.1 514.4 1202.4 514.7 1202.6 514.3 1202.9 500.8 1203.2 497.7 1203.5 515.4 1203.7 492.0 1204.0 508.1 1204.3 502.5 1204.5 481.9 1204.8 499.3 1205.1 485.5 1205.3 475.6 1205.6 468.7 1205.9 476.0 1206.2 506.7 1206.4 500.6 1206.7 503.5 1207.0 483.2 1207.2 495.0 1207.5 498.6 1207.8 492.2 1208.0 494.3 1208.3 519.4 1208.6 513.2 1208.9 499.8 1209.1 514.1 1209.4 525.2 1209.7 537.0 1209.9 504.8 1210.2 510.9 1210.5 524.9 1210.7 500.1 1211.0 508.5 1211.3 464.5 1211.6 507.4 1211.8 504.0 1212.1 485.6 1212.4 515.1 1212.6 521.2 1212.9 520.8 1213.2 516.0 1213.4 502.6 1213.7 501.1 1214.0 504.5 1214.3 502.9 1214.5 506.3 1214.8 504.4 1215.1 512.2 1215.3 513.3 1215.6 508.1 1215.9 525.2 1216.1 527.6 1216.4 501.1 1216.7 505.6 1217.0 494.9 1217.2 498.8 1217.5 523.0 1217.8 501.3 1218.0 491.2 1218.3 499.9 1218.6 510.0 1218.8 495.5 1219.1 494.6 1219.4 506.7 1219.7 505.1 1219.9 506.5 1220.2 512.6 1220.5 494.2 1220.7 507.6 1221.0 498.3 1221.3 513.1 1221.5 510.3 1221.8 495.9 1222.1 527.3 1222.4 503.5 1222.6 529.5 1222.9 520.0 1223.2 510.7 1223.4 508.2 1223.7 521.6 1224.0 528.5 1224.2 518.6 1224.5 524.0 1224.8 496.7 1225.1 507.4 1225.3 503.5 1225.6 477.4 1225.9 486.7 1226.1 468.6 1226.4 462.6 1226.7 495.9 1226.9 507.3 1227.2 526.5 1227.5 514.9 1227.8 532.8 1228.0 530.6 1228.3 519.8 1228.6 512.8 1228.8 492.5 1229.1 475.3 1229.4 479.2 1229.6 484.7 1229.9 491.1 1230.2 503.1 1230.5 506.0 1230.7 531.0 1231.0 529.1 1231.3 510.1 1231.5 516.2 1231.8 515.5 1232.1 498.6 1232.3 500.6 1232.6 498.4 1232.9 476.4 1233.2 496.8 1233.4 520.9 1233.7 535.5 1234.0 540.8 1234.2 492.1 1234.5 499.4 1234.8 498.0 1235.0 490.3 1235.3 492.5 1235.6 475.7 1235.9 490.7 1236.1 492.5 1236.4 516.3 1236.7 500.4 1236.9 525.8 1237.2 517.4 1237.5 516.5 1237.7 487.7 1238.0 507.8 1238.3 524.2 1238.6 488.7 1238.8 496.5 1239.1 495.7 1239.4 503.7 1239.6 498.0 1239.9 507.9 1240.2 513.0 1240.4 520.1 1240.7 510.3 1241.0 505.7 1241.3 489.4 1241.5 507.7 1241.8 482.8 1242.1 520.3 1242.3 502.4 1242.6 515.3 1242.9 504.2 1243.1 510.0 1243.4 516.9 1243.7 498.6 1244.0 510.2 1244.2 506.2 1244.5 500.4 1244.8 474.6 1245.0 453.0 1245.3 489.6 1245.6 488.7 1245.8 497.7 1246.1 491.0 1246.4 524.5 1246.7 519.7 1246.9 530.7 1247.2 496.9 1247.5 490.2 1247.7 498.8 1248.0 473.5 1248.3 488.8 1248.5 486.7 1248.8 500.0 1249.1 521.8 1249.4 528.3 1249.6 548.0 1249.9 525.2 1250.2 488.8 1250.4 509.4 1250.7 483.5 1251.0 503.6 1251.2 496.4 1251.5 506.4 1251.8 534.0 1252.1 509.4 1252.3 507.8 1252.6 508.3 1252.9 511.1 1253.1 531.6 1253.4 491.5 1253.7 484.8 1253.9 499.2 1254.2 473.9 1254.5 483.4 1254.8 501.4 1255.0 503.0 1255.3 508.5 1255.6 507.7 1255.8 504.7 1256.1 510.5 1256.4 516.3 1256.6 525.9 1256.9 521.2 1257.2 501.8 1257.5 507.7 1257.7 523.6 1258.0 500.8 1258.3 507.2 1258.5 503.9 1258.8 495.0 1259.1 496.9 1259.3 510.2 1259.6 490.4 1259.9 495.4 1260.2 497.3 1260.4 502.8 1260.7 487.1 1261.0 504.0 1261.2 491.6 1261.5 492.6 1261.8 492.0 1262.0 492.6 1262.3 494.8 1262.6 512.6 1262.9 505.2 1263.1 500.5 1263.4 511.6 1263.7 493.8 1263.9 500.5 1264.2 491.6 1264.5 483.9 1264.7 501.3 1265.0 490.6 1265.3 511.3 1265.6 502.9 1265.8 518.8 1266.1 530.8 1266.4 531.1 1266.6 516.4 1266.9 509.0 1267.2 498.0 1267.4 485.1 1267.7 484.7 1268.0 495.4 1268.3 500.0 1268.5 486.2 1268.8 505.8 1269.1 517.0 1269.3 515.1 1269.6 505.6 1269.9 521.5 1270.1 497.3 1270.4 518.8 1270.7 531.8 1271.0 498.3 1271.2 521.8 1271.5 509.8 1271.8 501.9 1272.0 487.6 1272.3 490.6 1272.6 480.9 1272.8 494.8 1273.1 499.1 1273.4 493.0 1273.7 501.7 1273.9 511.5 1274.2 514.0 1274.5 516.3 1274.7 511.2 1275.0 515.0 1275.3 502.5 1275.5 484.8 1275.8 512.5 1276.1 523.0 1276.4 496.0 1276.6 504.8 1276.9 512.8 1277.2 522.0 1277.4 519.1 1277.7 517.7 1278.0 500.6 1278.2 505.6 1278.5 514.9 1278.8 519.0 1279.1 544.5 1279.3 539.0 1279.6 534.7 1279.9 505.9 1280.1 505.3 1280.4 472.7 1280.7 473.0 1280.9 462.6 1281.2 462.6 1281.5 508.8 1281.8 521.6 1282.0 542.6 1282.3 526.8 1282.6 550.6 1282.8 522.6 1283.1 487.0 1283.4 481.0 1283.6 481.1 1283.9 496.6 1284.2 490.4 1284.5 485.5 1284.7 514.9 1285.0 541.4 1285.3 532.5 1285.5 512.6 1285.8 514.1 1286.1 504.4 1286.3 503.4 1286.6 470.4 1286.9 480.3 1287.2 500.3 1287.4 499.5 1287.7 515.7 1288.0 543.3 1288.2 529.4 1288.5 541.6 1288.8 531.7 1289.0 517.7 1289.3 506.4 1289.6 480.7 1289.9 471.3 1290.1 517.6 1290.4 519.0 1290.7 541.8 1290.9 535.7 1291.2 534.3 1291.5 532.8 1291.7 522.7 1292.0 486.3 1292.3 504.9 1292.6 475.1 1292.8 488.9 1293.1 514.0 1293.4 496.9 1293.6 519.1 1293.9 507.2 1294.2 515.6 1294.4 507.4 1294.7 512.3 1295.0 497.2 1295.3 494.5 1295.5 504.5 1295.8 473.2 1296.1 476.5 1296.3 495.9 1296.6 483.5 1296.9 490.1 1297.1 491.7 1297.4 505.4 1297.7 500.1 1298.0 503.5 1298.2 508.3 1298.5 531.0 1298.8 506.5 1299.0 494.2 1299.3 509.0 1299.6 493.4 1299.8 488.5 1300.1 465.6 1300.4 502.2 1300.7 502.1 1300.9 511.8 1301.2 496.2 1301.5 506.3 1301.7 492.9 1302.0 500.9 1302.3 483.3 1302.5 480.6 1302.8 497.1 1303.1 497.4 1303.4 523.7 1303.6 518.5 1303.9 525.1 1304.2 515.7 1304.4 505.5 1304.7 488.7 1305.0 474.6 1305.2 480.9 1305.5 482.1 1305.8 499.6 1306.1 503.9 1306.3 495.9 1306.6 524.9 1306.9 529.4 1307.1 505.7 1307.4 499.0 1307.7 496.4 1307.9 488.8 1308.2 483.4 1308.5 507.0 1308.8 516.3 1309.0 515.2 1309.3 513.5 1309.6 508.7 1309.8 503.2 1310.1 504.2 1310.4 493.5 1310.6 495.8 1310.9 482.1 1311.2 490.3 1311.5 510.6 1311.7 511.9 1312.0 500.7 1312.3 530.3 1312.5 497.6 1312.8 529.9 1313.1 511.4 1313.3 509.2" stroke="#000" stroke-width="1.15" fill="none"/>
<path d="M341.4 507.0L342.2 505.6 343.0 505.5 343.8 505.4 344.6 505.3 345.4 505.7 346.3 506.2 347.1 506.0 347.9 505.6 348.7 505.2 349.5 503.2 350.3 501.5 351.1 502.6 351.9 504.7 352.7 505.9 353.5 506.1 354.4 505.9 355.2 506.6 356.0 507.0 356.8 507.3 357.6 505.7 358.4 505.8 359.2 506.5 360.0 507.5 360.8 510.2 361.6 512.1 362.5 510.9 363.3 509.9 364.1 509.9 364.9 510.5 365.7 510.4 366.5 509.3 367.3 508.2 368.1 507.5 368.9 509.1 369.7 509.3 370.6 508.4 371.4 507.8 372.2 508.2 373.0 506.7 373.8 507.1 374.6 507.8 375.4 508.2 376.2 507.2 377.0 507.6 377.8 508.1 378.7 508.7 379.5 509.2 380.3 508.6 381.1 507.9 381.9 507.6 382.7 507.8 383.5 508.3 384.3 509.5 385.1 507.5 385.9 506.1 386.8 507.8 387.6 508.4 388.4 507.1 389.2 506.6 390.0 507.7 390.8 507.5 391.6 506.4 392.4 507.2 393.2 507.5 394.0 507.9 394.9 507.3 395.7 506.8 396.5 507.1 397.3 507.3 398.1 506.0 398.9 505.1 399.7 505.6 400.5 505.3 401.3 504.7 402.1 505.2 403.0 505.9 403.8 505.9 404.6 506.1 405.4 506.0 406.2 505.8 407.0 504.9 407.8 505.6 408.6 504.7 409.4 504.6 410.2 505.5 411.1 505.1 411.9 505.3 412.7 506.4 413.5 506.2 414.3 504.9 415.1 504.8 415.9 504.9 416.7 503.9 417.5 503.9 418.3 505.4 419.2 505.2 420.0 505.8 420.8 505.9 421.6 506.8 422.4 508.7 423.2 507.6 424.0 505.9 424.8 507.6 425.6 508.2 426.4 507.0 427.3 507.1 428.1 506.7 428.9 507.0 429.7 506.5 430.5 506.2 431.3 506.4 432.1 506.0 432.9 504.8 433.7 504.6 434.5 505.3 435.4 505.1 436.2 505.0 437.0 505.2 437.8 504.6 438.6 505.4 439.4 507.2 440.2 508.1 441.0 506.9 441.8 508.0 442.6 508.2 443.5 509.9 444.3 508.7 445.1 508.0 445.9 507.6 446.7 506.3 447.5 505.2 448.3 506.3 449.1 506.9 449.9 507.4 450.7 506.3 451.6 506.3 452.4 507.5 453.2 506.3 454.0 505.2 454.8 504.9 455.6 505.1 456.4 504.5 457.2 505.4 458.0 506.9 458.8 505.9 459.7 505.5 460.5 505.7 461.3 505.6 462.1 506.6 462.9 507.4 463.7 507.0 464.5 506.1 465.3 505.9 466.1 506.5 466.9 507.3 467.8 506.5 468.6 506.0 469.4 505.3 470.2 507.2 471.0 509.2 471.8 509.3 472.6 508.2 473.4 508.6 474.2 508.1 475.0 509.0 475.9 509.4 476.7 509.9 477.5 508.5 478.3 511.1 479.1 511.8 479.9 509.7 480.7 507.3 481.5 507.1 482.3 504.9 483.1 502.0 484.0 505.1 484.8 505.4 485.6 504.7 486.4 504.4 487.2 506.2 488.0 507.1 488.8 507.4 489.6 505.2 490.4 505.7 491.2 507.4 492.1 510.0 492.9 510.0 493.7 511.7 494.5 510.4 495.3 505.3 496.1 506.0 496.9 507.4 497.7 505.4 498.5 502.9 499.3 503.7 500.2 505.6 501.0 505.5 501.8 505.0 502.6 505.6 503.4 503.9 504.2 502.8 505.0 502.6 505.8 505.4 506.6 507.1 507.4 504.8 508.2 505.6 509.1 506.4 509.9 506.8 510.7 505.0 511.5 505.2 512.3 505.2 513.1 505.7 513.9 506.2 514.7 507.6 515.5 509.0 516.3 508.1 517.2 506.0 518.0 505.8 518.8 507.6 519.6 509.1 520.4 510.6 521.2 509.8 522.0 509.0 522.8 508.4 523.6 508.6 524.4 509.7 525.3 508.6 526.1 510.1 526.9 510.6 527.7 511.6 528.5 513.0 529.3 512.3 530.1 512.3 530.9 510.0 531.7 509.9 532.5 511.1 533.4 511.7 534.2 511.7 535.0 510.8 535.8 511.3 536.6 510.7 537.4 508.1 538.2 508.1 539.0 507.4 539.8 507.7 540.6 508.7 541.5 509.2 542.3 509.6 543.1 509.9 543.9 510.2 544.7 510.2 545.5 509.6 546.3 510.2 547.1 508.4 547.9 508.9 548.7 510.2 549.6 510.4 550.4 509.4 551.2 506.7 552.0 505.9 552.8 505.7 553.6 507.8 554.4 507.8 555.2 506.8 556.0 505.9 556.8 506.4 557.7 507.0 558.5 506.1 559.3 502.9 560.1 502.3 560.9 501.9 561.7 504.6 562.5 504.4 563.3 504.2 564.1 504.1 564.9 501.2 565.8 500.6 566.6 502.5 567.4 505.2 568.2 505.3 569.0 504.5 569.8 505.8 570.6 506.6 571.4 507.7 572.2 508.3 573.0 506.1 573.9 506.6 574.7 506.3 575.5 506.9 576.3 506.9 577.1 506.7 577.9 506.0 578.7 506.2 579.5 507.1 580.3 507.4 581.1 507.8 582.0 507.3 582.8 505.5 583.6 505.7 584.4 507.4 585.2 507.6 586.0 506.8 586.8 505.9 587.6 505.8 588.4 505.1 589.2 503.6 592.2 496.2 594.9 523.1 598.4 488.1 601.3 521.5 604.6 495.1 607.8 524.8 610.8 487.6 613.5 527.5 615.9 485.1 618.6 526.4 620.7 487.0 623.2 522.6 625.3 494.8 628.0 512.4 629.9 501.3 632.6 509.1 634.5 503.2 636.9 507.0 639.5 509.8 640.3 509.5 641.1 508.3 641.9 509.5 642.7 511.0 643.5 509.3 644.3 508.4 645.1 508.3 645.9 507.6 646.8 506.7 647.6 505.5 648.4 506.2 649.2 506.8 650.0 506.6 650.8 505.6 651.6 505.1 652.4 505.6 653.2 504.8 654.0 504.4 654.9 504.8 655.7 505.6 656.5 507.0 657.3 507.6 658.1 507.9 658.9 508.8 659.7 510.4 660.5 510.1 661.3 508.6 662.1 508.9 663.0 510.5 663.8 510.4 664.6 508.7 665.4 508.6 666.2 509.0 667.0 508.0 667.8 508.2 668.6 509.6 669.4 509.8 670.2 508.1 671.0 505.9 671.9 507.1 672.7 509.1 673.5 508.9 674.3 507.6 675.1 507.9 675.9 509.8 676.7 509.8 677.5 509.3 678.3 509.3 679.1 509.4 680.0 508.7 680.8 507.8 681.6 508.8 682.4 509.4 683.2 509.1 684.0 508.9 684.8 508.8 685.6 507.3 686.4 507.1 687.2 507.1 688.1 508.4 688.9 509.8 689.7 509.6 690.5 509.5 691.3 510.7 692.1 510.2 692.9 509.0 693.7 508.9 694.5 510.0 695.3 509.7 696.2 509.5 697.0 511.5 697.8 511.6 698.6 510.6 699.4 508.9 700.2 508.1 701.0 507.8 701.8 506.2 702.6 506.2 703.4 508.1 704.3 509.4 705.1 508.5 705.9 508.2 706.7 508.6 707.5 509.3 708.3 508.3 709.1 507.8 709.9 508.5 710.7 509.9 711.5 511.0 712.4 510.5 713.2 510.3 714.0 509.7 714.8 508.4 715.6 508.6 716.4 508.9 717.2 508.4 718.0 507.9 718.8 507.4 719.6 507.1 720.5 507.8 721.3 507.4 722.1 506.5 722.9 505.6 723.7 506.1 724.5 507.0 725.3 506.9 726.1 506.9 726.9 506.8 727.7 507.1 728.6 507.6 729.4 507.1 730.2 506.0 731.0 506.4 731.8 507.0 732.6 506.6 733.4 505.7 734.2 506.3 735.0 507.5 735.8 507.6 736.7 507.0 737.5 506.7 738.3 506.4 739.1 505.5 739.9 504.8 740.7 506.1 741.5 507.2 742.3 506.8 743.1 506.3 743.9 507.8 744.8 508.7 745.6 507.8 746.4 505.7 747.2 505.8 748.0 507.2 748.8 506.4 749.6 505.9 750.4 505.4 751.2 505.4 752.0 505.6 752.9 505.6 753.7 506.1 754.5 506.0 755.3 505.5 756.1 504.4 756.9 504.5 757.7 506.6 758.5 506.9 759.3 507.0 760.1 507.0 761.0 508.1 761.8 508.2 762.6 508.7 763.4 509.4 764.2 509.0 765.0 507.4 765.8 506.9 766.6 505.8 767.4 506.6 768.2 506.4 769.1 505.0 769.9 506.0 770.7 507.1 771.5 506.8 772.3 507.2 773.1 507.8 773.9 507.6 774.7 506.9 775.5 507.7 776.3 507.9 777.2 507.5 778.0 508.1 778.8 507.9 779.6 507.5 780.4 507.6 781.2 507.4 782.0 507.3 782.8 507.6 783.6 507.4 784.4 506.8 785.3 507.4 786.1 507.4 786.9 507.6 787.7 507.5 788.5 508.7 789.3 509.4 790.1 510.5 790.9 510.6 791.7 509.5 792.5 509.3 793.4 510.2 794.2 509.8 795.0 509.1 795.8 509.4 796.6 509.0 797.4 508.6 798.2 509.2 799.0 510.4 799.8 510.4 800.6 509.7 801.5 509.8 802.3 510.9 803.1 512.1 803.9 511.4 804.7 510.2 805.5 510.0 806.3 510.8 807.1 509.8 807.9 510.1 808.7 510.0 809.6 509.8 810.4 508.6 811.2 508.7 812.0 509.4 812.8 509.0 813.6 506.7 814.4 505.3 815.2 505.6 816.0 506.5 816.8 506.6 817.7 506.4 818.5 507.1 819.3 509.2 820.1 508.5 820.9 508.5 821.7 507.8 822.5 505.8 823.3 505.1 824.1 504.3 824.9 503.8 825.8 504.8 826.6 505.0 827.4 504.1 828.2 504.3 829.0 505.8 829.8 505.4 830.6 504.8 831.4 504.9 832.2 503.6 833.0 504.8 833.8 506.7 834.7 506.0 835.5 506.4 836.3 509.5 837.1 511.6 837.9 510.1 838.7 508.4 839.5 509.4 840.3 507.5 841.1 505.7 841.9 505.3 842.8 506.0 843.6 508.1 844.4 507.1 845.2 507.4 846.0 508.0 846.8 507.6 847.6 504.1 848.4 503.1 849.2 506.5 850.0 508.8 850.9 507.8 851.7 507.5 852.5 509.3 853.3 510.2 854.1 509.4 854.9 509.6 855.7 510.5 856.5 511.0 857.3 511.0 858.1 512.8 859.0 514.9 859.8 514.2 860.6 512.2 861.4 511.2 862.2 512.4 863.0 513.5 863.8 514.1 864.6 514.7 865.4 514.1 866.2 513.0 867.1 511.3 867.9 509.8 868.7 510.3 869.5 508.9 870.3 508.2 871.1 508.0 871.9 508.7 872.7 507.9 873.5 505.7 874.3 504.8 875.2 504.4 876.0 503.4 876.8 502.0 877.6 504.1 878.4 506.5 879.2 504.9 880.0 504.8 880.8 506.0 881.6 506.6 882.4 506.2 883.3 506.0 884.1 507.1 884.9 507.1 885.7 506.8 886.5 506.1 887.3 507.6 888.1 509.9 888.9 507.7 889.7 507.9 890.5 509.3 891.4 508.9 892.2 507.6 893.0 506.5 893.8 506.4 894.6 507.5 895.4 508.8 896.2 507.8 897.0 508.0 897.8 508.1 898.6 508.0 899.5 506.6 900.3 507.1 901.1 507.3 901.9 506.1 902.7 507.7 903.5 509.1 904.3 509.4 905.1 507.9 905.9 507.2 906.7 505.8 907.6 506.8 908.4 507.9 909.2 505.9 910.0 506.6 910.8 508.0 911.6 508.0 912.4 508.4 913.2 509.6 914.0 509.8 914.8 512.3 915.7 511.2 916.5 509.4 917.3 509.6 918.1 512.4 918.9 514.0 919.7 509.5 920.5 508.2 921.3 510.5 922.1 510.7 922.9 508.9 923.8 508.7 924.6 507.1 925.4 505.8 926.2 504.2 927.0 505.4 927.8 506.1 928.6 507.3 929.4 504.9 930.2 503.0 931.0 506.8 931.9 507.6 932.7 505.5 933.5 504.4 934.3 506.4 935.1 508.8 935.9 509.0 936.7 507.9 937.5 507.7 938.3 507.8 939.1 507.9 940.0 509.7 940.8 512.9 941.6 515.3 942.4 513.6 943.2 511.6 944.0 510.9 944.8 511.8 945.6 513.1 946.4 511.4 947.2 511.5 948.1 511.6 948.9 510.7 949.7 511.2 950.5 510.4 951.3 507.4 952.1 505.3 952.9 506.0 953.7 507.1 954.5 509.6 955.3 511.1 956.2 510.7 957.0 507.1 957.8 507.1 958.6 508.2 959.4 509.6 960.2 509.6 961.0 508.4 961.8 509.1 962.6 511.4 963.4 510.9 964.3 509.3 965.1 508.7 965.9 508.1 966.7 506.3 967.5 506.3 968.3 507.5 969.1 506.8 969.9 506.3 970.7 506.5 971.5 508.1 972.4 509.0 973.2 508.3 974.0 507.1 974.8 507.8 975.6 510.4 976.4 510.6 977.2 510.8 978.0 509.9 978.8 509.8 979.6 511.2 980.5 511.5 981.3 509.9 982.1 508.8 982.9 507.7 983.7 508.0 984.5 508.3 985.3 508.6 986.1 506.4 986.9 505.5 987.7 505.3 988.6 505.5 989.4 505.6 990.2 504.8 991.0 503.2 991.8 505.0 992.6 505.4 993.4 506.5 994.2 505.9 995.0 505.9 995.8 507.1 996.6 507.2 997.5 506.5 998.3 506.6 999.1 507.9 999.9 509.8 1000.7 510.6 1001.5 510.8 1002.3 510.8 1003.1 510.3 1003.9 510.7 1004.7 512.6 1005.6 514.4 1006.4 510.7 1007.2 507.5 1008.0 508.1 1008.8 508.9 1009.6 508.8 1010.4 507.5 1011.2 506.0 1012.0 505.4 1012.8 505.6 1013.7 505.6 1014.5 505.7 1015.3 506.4 1016.1 503.5 1016.9 503.2 1017.7 506.4 1018.5 508.3 1019.3 507.3 1020.1 504.7 1020.9 504.1 1021.8 505.2 1022.6 507.0 1023.4 506.5 1024.2 505.3 1025.0 506.4 1025.8 505.8 1026.6 504.2 1027.4 503.9 1028.2 504.2 1029.0 504.6 1029.9 504.1 1030.7 505.3 1031.5 507.2 1032.3 506.8 1033.1 505.7 1033.9 505.4 1034.7 506.2 1035.5 507.6 1036.3 506.5 1037.1 506.0 1038.0 507.4 1038.8 509.2 1039.6 509.2 1040.4 508.8 1041.2 507.8 1042.0 506.3 1042.8 505.9 1043.6 506.5 1044.4 507.0 1045.2 506.3 1046.1 504.3 1046.9 504.9 1047.7 505.2 1048.5 506.9 1049.3 505.5 1050.1 503.9 1050.9 505.2 1051.7 506.0 1052.5 506.5 1053.3 507.4 1054.2 507.9 1055.0 508.6 1055.8 507.4 1056.6 507.5 1057.4 507.4 1058.2 507.7 1059.0 509.3 1059.8 509.0 1060.6 509.2 1061.4 509.4 1062.3 508.3 1063.1 507.4 1063.9 507.9 1064.7 508.2 1065.5 508.1 1066.3 507.8 1067.1 508.3 1067.9 509.2 1068.7 509.3 1069.5 507.7 1070.4 506.4 1071.2 506.4 1072.0 507.2 1072.8 506.6 1073.6 507.4 1074.4 509.2 1075.2 509.4 1076.0 508.0 1076.8 507.8 1077.6 507.9 1078.5 507.7 1079.3 506.7 1080.1 506.8 1080.9 506.4 1081.7 506.8 1082.5 508.0 1083.3 508.2 1084.1 508.1 1084.9 507.6 1085.7 506.6 1086.6 505.7 1087.4 505.6 1088.2 504.7 1089.0 505.8 1089.8 506.6 1090.6 506.5 1091.4 506.6 1092.2 507.4 1093.0 506.7 1093.8 505.7 1094.7 505.5 1095.5 506.5 1096.3 507.0 1097.1 505.4 1097.9 505.7 1098.7 506.5 1099.5 507.2 1100.3 507.5 1101.1 507.1 1101.9 506.8 1102.8 506.6 1103.6 506.1 1104.4 506.2 1105.2 507.0 1106.0 507.4 1106.8 505.7 1107.6 506.0 1108.4 507.2 1109.2 508.0 1110.0 508.8 1110.9 508.2 1111.7 508.2 1112.5 508.8 1113.3 508.5 1114.1 508.6 1114.9 510.2 1115.7 511.8 1116.5 510.4 1117.3 509.6 1118.1 511.0 1119.0 511.8 1119.8 511.4 1120.6 510.2 1121.4 510.7 1122.2 510.7 1123.0 509.4 1123.8 509.9 1124.6 510.9 1125.4 510.2 1126.2 508.0 1127.1 506.6 1127.9 508.7 1128.7 508.7 1129.5 506.9 1130.3 505.7 1131.1 507.5 1131.9 508.4 1132.7 507.4 1133.5 507.4 1134.3 507.6 1135.2 509.5 1136.0 510.9 1136.8 510.5 1137.6 510.0 1138.4 511.4 1139.2 511.0 1140.0 511.0 1140.8 512.0 1141.6 511.9 1142.4 510.6 1143.3 510.8 1144.1 510.9 1144.9 512.5 1145.7 512.0 1146.5 510.7 1147.3 511.2 1148.1 513.6 1148.9 512.6 1149.7 512.4 1150.5 513.3 1151.3 513.5 1152.2 512.7 1153.0 512.5 1153.8 511.9 1154.6 511.5 1155.4 510.4 1156.2 509.9 1157.0 510.7 1157.8 508.7 1158.6 507.7 1159.4 506.8 1160.3 506.9 1161.1 507.3 1161.9 507.3 1162.7 505.5 1163.5 506.0 1164.3 507.4 1165.1 507.6 1165.9 507.0 1166.7 507.8 1167.5 507.8 1168.4 508.8 1169.2 508.4 1170.0 507.2 1170.8 509.2 1171.6 509.4 1172.4 507.8 1173.2 504.1 1174.0 505.0 1174.8 506.0 1175.6 504.3 1176.5 502.8 1177.3 504.2 1178.1 504.8 1178.9 504.6 1179.7 503.9 1180.5 505.9 1181.3 504.7 1182.1 502.3 1182.9 501.5 1183.7 503.5 1184.6 506.9 1185.4 507.8 1186.2 505.9 1187.0 508.1 1187.8 508.6 1188.6 508.0 1189.4 507.2 1190.2 509.2 1191.0 508.2 1191.8 507.0 1192.7 509.3 1193.5 511.4 1194.3 511.6 1195.1 509.9 1195.9 510.5 1196.7 510.8 1197.5 511.7 1198.3 510.8 1199.1 509.9 1199.9 509.4 1200.8 506.5 1201.6 505.0 1202.4 505.4 1203.2 506.1 1204.0 505.3 1204.8 505.0 1205.6 505.6 1206.4 505.1 1207.2 504.4 1208.0 504.4 1208.9 504.3 1209.7 504.4 1210.5 505.7 1211.3 507.7 1212.1 508.4 1212.9 508.6 1213.7 508.9 1214.5 508.6 1215.3 507.4 1216.1 507.0 1217.0 508.1 1217.8 509.3 1218.6 509.3 1219.4 509.7 1220.2 509.2 1221.0 507.0 1221.8 506.4 1222.6 507.9 1223.4 507.9 1224.2 506.7 1225.1 506.8 1225.9 507.7 1226.7 508.2 1227.5 507.4 1228.3 507.2 1229.1 507.1 1229.9 505.4 1230.7 504.1 1231.5 505.5 1232.3 507.4 1233.2 506.9 1234.0 505.2 1234.8 505.9 1235.6 507.5 1236.4 506.3 1237.2 506.0 1238.0 506.3 1238.8 507.1 1239.6 504.5 1240.4 504.3 1241.3 505.7 1242.1 506.1 1242.9 504.5 1243.7 504.4 1244.5 506.2 1245.3 505.9 1246.1 505.2 1246.9 506.1 1247.7 506.9 1248.5 506.0 1249.4 504.7 1250.2 504.8 1251.0 506.3 1251.8 507.7 1252.6 506.9 1253.4 507.3 1254.2 508.2 1255.0 507.1 1255.8 505.6 1256.6 505.2 1257.5 504.7 1258.3 504.4 1259.1 503.2 1259.9 504.1 1260.7 505.4 1261.5 506.1 1262.3 504.4 1263.1 503.5 1263.9 503.6 1264.7 504.1 1265.6 505.2 1266.4 506.1 1267.2 505.5 1268.0 505.6 1268.8 505.8 1269.6 506.5 1270.4 507.0 1271.2 507.4 1272.0 506.8 1272.8 506.8 1273.7 509.1 1274.5 510.8 1275.3 509.1 1276.1 506.5 1276.9 507.3 1277.7 508.5 1278.5 508.4 1279.3 508.3 1280.1 509.2 1280.9 509.1 1281.8 507.7 1282.6 508.6 1283.4 509.5 1284.2 509.1 1285.0 507.3 1285.8 508.6 1286.6 511.7 1287.4 511.2 1288.2 509.4 1289.0 510.2 1289.9 510.9 1290.7 509.2 1291.5 507.4 1292.3 507.8 1293.1 509.0 1293.9 507.5 1294.7 504.7 1295.5 505.8 1296.3 504.2 1297.1 501.5 1298.0 501.6 1298.8 503.2 1299.6 502.1 1300.4 500.7 1301.2 501.2 1302.0 503.0 1302.8 503.0 1303.6 503.6 1304.4 503.2 1305.2 503.2 1306.1 503.7 1306.9 504.3 1307.7 505.1 1308.5 506.3 1309.3 505.9 1310.1 505.4 1310.9 506.9 1311.7 507.5 1312.5 506.9 1313.3 507.3" stroke="#cccc00" stroke-width="2.4" fill="none" stroke-linejoin="round"/>
<rect x="182.9" y="18.4" width="372.5" height="162.8" fill="#fff" stroke="#888" stroke-width="1"/>
<path d="M220 39.4H276" stroke="#3333ff" stroke-width="1"/><circle cx="248.2" cy="39.4" r="4.3" fill="#0000ff"/>
<path d="M220 69.6H276" stroke="#22cccc" stroke-width="1"/><circle cx="248.2" cy="69.6" r="4.3" fill="#00c8c8"/>
<path d="M220 100H276" stroke="#000" stroke-width="3"/>
<path d="M220 130.3H276" stroke="#bdbdbd" stroke-width="3"/>
<path d="M220 161.4H276" stroke="#ff3333" stroke-width="1"/><circle cx="248.2" cy="161.4" r="4.3" fill="#ff0000"/>
<text x="294.9" y="48.0" font-size="24.1" text-anchor="start" >Pressure</text>
<text x="294.9" y="78.2" font-size="24.1" text-anchor="start" >dP/dt range ±0.3 hPa/s</text>
<text x="294.9" y="108.6" font-size="24.1" text-anchor="start" >Residual</text>
<text x="294.9" y="138.9" font-size="24.1" text-anchor="start" >... last 10 min.</text>
<text x="294.9" y="170.0" font-size="24.1" text-anchor="start" >Theor.Tide</text>
</svg></body></html>
